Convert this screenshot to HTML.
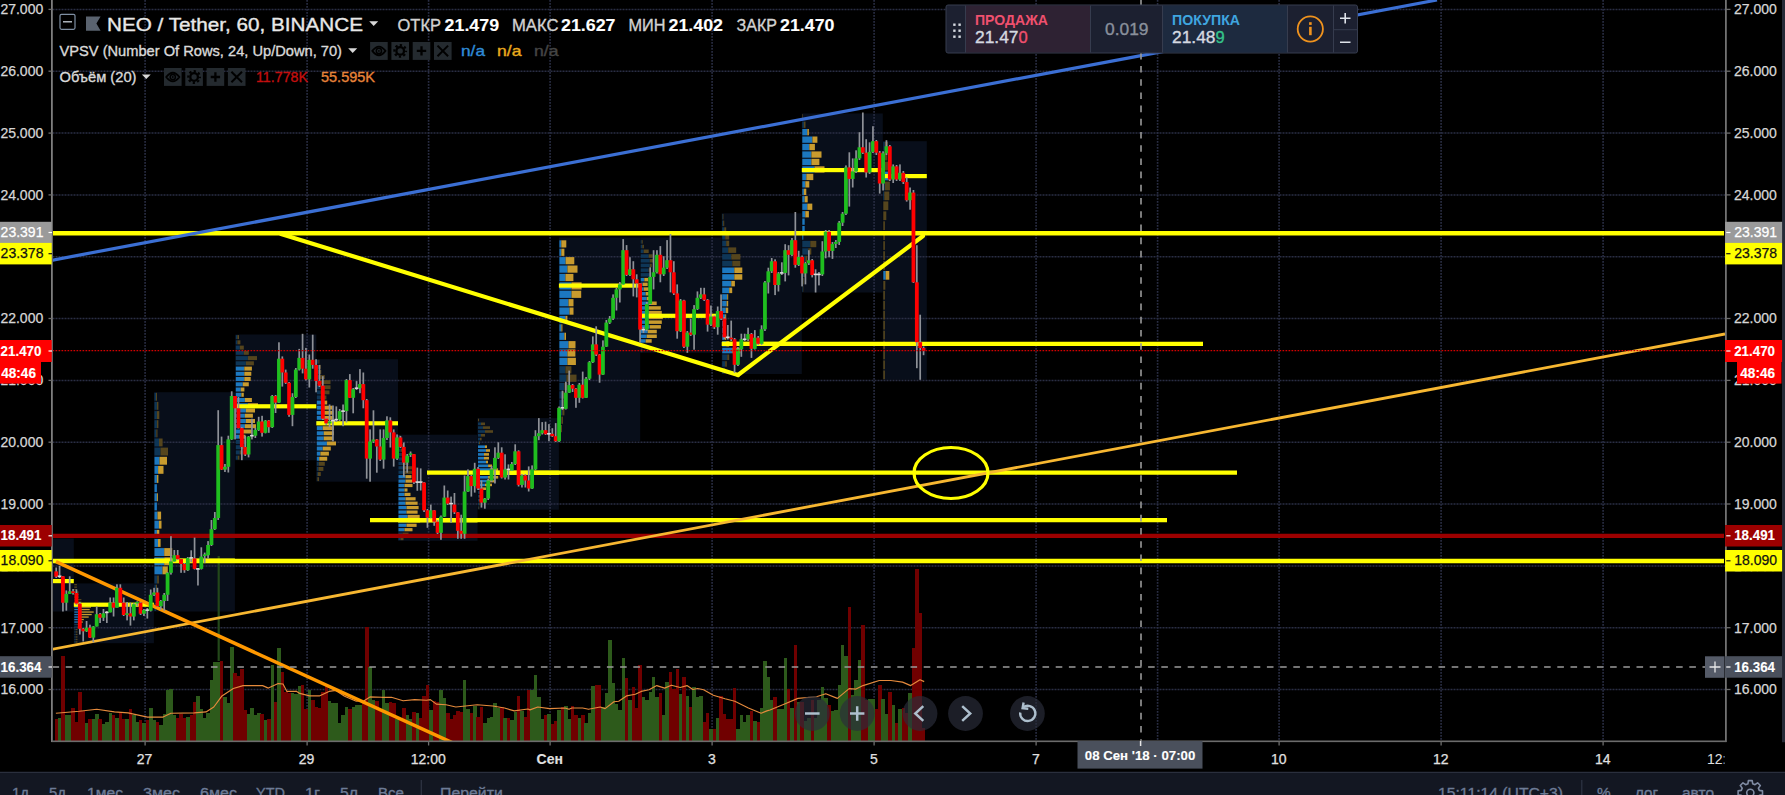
<!DOCTYPE html>
<html lang="ru"><head><meta charset="utf-8"><title>NEO / Tether, 60, BINANCE</title>
<style>html,body{margin:0;padding:0;background:#000;width:1785px;height:795px;overflow:hidden}svg{display:block}text{opacity:0.999}text{white-space:pre}</style>
</head><body>
<svg width="1785" height="795" viewBox="0 0 1785 795" font-family="'Liberation Sans', sans-serif">
<rect width="1785" height="795" fill="#000"/>
<defs><clipPath id="pane"><rect x="53.0" y="0" width="1672.0" height="741.0"/></clipPath></defs>
<g clip-path="url(#pane)">
<rect x="52.6" y="538.5" width="21.2" height="73.0" fill="#080e1a"/>
<rect x="73.8" y="583.4" width="80.1" height="59.8" fill="#080e1a"/>
<rect x="154.0" y="392.2" width="80.9" height="219.3" fill="#080e1a"/>
<rect x="235.3" y="334.5" width="81.0" height="125.8" fill="#080e1a"/>
<rect x="316.3" y="359.2" width="81.7" height="122.5" fill="#080e1a"/>
<rect x="398.0" y="434.7" width="79.5" height="106.1" fill="#080e1a"/>
<rect x="477.5" y="418.1" width="81.4" height="91.6" fill="#080e1a"/>
<rect x="558.9" y="237.5" width="81.3" height="203.7" fill="#080e1a"/>
<rect x="640.2" y="237.5" width="81.5" height="115.3" fill="#080e1a"/>
<rect x="721.7" y="213.3" width="80.1" height="160.7" fill="#080e1a"/>
<rect x="801.8" y="113.5" width="81.0" height="179.0" fill="#080e1a"/>
<rect x="882.8" y="141.2" width="44.0" height="238.6" fill="#080e1a"/>
<line x1="52.5" x2="1725.5" y1="689.5" y2="689.5" stroke="#2a2e44" stroke-width="1.5" stroke-dasharray="2 1"/>
<line x1="52.5" x2="1725.5" y1="627.7" y2="627.7" stroke="#2a2e44" stroke-width="1.5" stroke-dasharray="2 1"/>
<line x1="52.5" x2="1725.5" y1="565.9" y2="565.9" stroke="#2a2e44" stroke-width="1.5" stroke-dasharray="2 1"/>
<line x1="52.5" x2="1725.5" y1="504.0" y2="504.0" stroke="#2a2e44" stroke-width="1.5" stroke-dasharray="2 1"/>
<line x1="52.5" x2="1725.5" y1="442.2" y2="442.2" stroke="#2a2e44" stroke-width="1.5" stroke-dasharray="2 1"/>
<line x1="52.5" x2="1725.5" y1="380.4" y2="380.4" stroke="#2a2e44" stroke-width="1.5" stroke-dasharray="2 1"/>
<line x1="52.5" x2="1725.5" y1="318.5" y2="318.5" stroke="#2a2e44" stroke-width="1.5" stroke-dasharray="2 1"/>
<line x1="52.5" x2="1725.5" y1="256.7" y2="256.7" stroke="#2a2e44" stroke-width="1.5" stroke-dasharray="2 1"/>
<line x1="52.5" x2="1725.5" y1="194.9" y2="194.9" stroke="#2a2e44" stroke-width="1.5" stroke-dasharray="2 1"/>
<line x1="52.5" x2="1725.5" y1="133.1" y2="133.1" stroke="#2a2e44" stroke-width="1.5" stroke-dasharray="2 1"/>
<line x1="52.5" x2="1725.5" y1="71.2" y2="71.2" stroke="#2a2e44" stroke-width="1.5" stroke-dasharray="2 1"/>
<line x1="52.5" x2="1725.5" y1="9.4" y2="9.4" stroke="#2a2e44" stroke-width="1.5" stroke-dasharray="2 1"/>
<line x1="145.1" x2="145.1" y1="0" y2="741.5" stroke="#2a2e44" stroke-width="1.6" stroke-dasharray="1.8 1.2"/>
<line x1="307.1" x2="307.1" y1="0" y2="741.5" stroke="#2a2e44" stroke-width="1.6" stroke-dasharray="1.8 1.2"/>
<line x1="428.6" x2="428.6" y1="0" y2="741.5" stroke="#2a2e44" stroke-width="1.6" stroke-dasharray="1.8 1.2"/>
<line x1="550.1" x2="550.1" y1="0" y2="741.5" stroke="#2a2e44" stroke-width="1.6" stroke-dasharray="1.8 1.2"/>
<line x1="712.1" x2="712.1" y1="0" y2="741.5" stroke="#2a2e44" stroke-width="1.6" stroke-dasharray="1.8 1.2"/>
<line x1="874.1" x2="874.1" y1="0" y2="741.5" stroke="#2a2e44" stroke-width="1.6" stroke-dasharray="1.8 1.2"/>
<line x1="1036.1" x2="1036.1" y1="0" y2="741.5" stroke="#2a2e44" stroke-width="1.6" stroke-dasharray="1.8 1.2"/>
<line x1="1157.6" x2="1157.6" y1="0" y2="741.5" stroke="#2a2e44" stroke-width="1.6" stroke-dasharray="1.8 1.2"/>
<line x1="1279.1" x2="1279.1" y1="0" y2="741.5" stroke="#2a2e44" stroke-width="1.6" stroke-dasharray="1.8 1.2"/>
<line x1="1441.1" x2="1441.1" y1="0" y2="741.5" stroke="#2a2e44" stroke-width="1.6" stroke-dasharray="1.8 1.2"/>
<line x1="1603.1" x2="1603.1" y1="0" y2="741.5" stroke="#2a2e44" stroke-width="1.6" stroke-dasharray="1.8 1.2"/>
<rect x="74.3" y="584.0" width="2.6" height="1.3" fill="#55451d"/>
<rect x="74.3" y="586.5" width="2.6" height="1.3" fill="#55451d"/>
<rect x="74.3" y="589.0" width="2.6" height="1.3" fill="#55451d"/>
<rect x="74.3" y="591.5" width="4.4" height="1.3" fill="#55451d"/>
<rect x="74.3" y="594.0" width="4.4" height="1.3" fill="#55451d"/>
<rect x="74.3" y="596.5" width="4.4" height="1.3" fill="#55451d"/>
<rect x="74.3" y="599.0" width="1.8" height="1.3" fill="#0e3657"/>
<rect x="76.1" y="599.0" width="5.3" height="1.3" fill="#55451d"/>
<rect x="74.3" y="601.4" width="1.8" height="1.3" fill="#0e3657"/>
<rect x="76.1" y="601.4" width="5.3" height="1.3" fill="#55451d"/>
<rect x="74.3" y="603.9" width="4.4" height="1.3" fill="#1c78c0"/>
<rect x="78.7" y="603.9" width="12.3" height="1.3" fill="#c89b2e"/>
<rect x="74.3" y="606.4" width="4.4" height="1.3" fill="#1c78c0"/>
<rect x="78.7" y="606.4" width="12.3" height="1.3" fill="#c89b2e"/>
<rect x="74.3" y="608.9" width="4.4" height="1.3" fill="#1c78c0"/>
<rect x="78.7" y="608.9" width="11.0" height="1.3" fill="#c89b2e"/>
<rect x="74.3" y="611.4" width="4.4" height="1.3" fill="#1c78c0"/>
<rect x="78.7" y="611.4" width="15.0" height="1.3" fill="#c89b2e"/>
<rect x="74.3" y="613.9" width="4.4" height="1.3" fill="#1c78c0"/>
<rect x="78.7" y="613.9" width="13.0" height="1.3" fill="#c89b2e"/>
<rect x="74.3" y="616.4" width="4.4" height="1.3" fill="#1c78c0"/>
<rect x="78.7" y="616.4" width="10.0" height="1.3" fill="#c89b2e"/>
<rect x="74.3" y="618.9" width="3.5" height="1.3" fill="#1c78c0"/>
<rect x="77.8" y="618.9" width="6.0" height="1.3" fill="#c89b2e"/>
<rect x="74.3" y="621.4" width="3.5" height="1.3" fill="#1c78c0"/>
<rect x="77.8" y="621.4" width="5.0" height="1.3" fill="#c89b2e"/>
<rect x="74.3" y="623.9" width="3.0" height="1.3" fill="#0e3657"/>
<rect x="77.3" y="623.9" width="4.0" height="1.3" fill="#55451d"/>
<rect x="74.3" y="626.4" width="3.0" height="1.3" fill="#0e3657"/>
<rect x="77.3" y="626.4" width="3.0" height="1.3" fill="#55451d"/>
<rect x="74.3" y="628.9" width="1.4" height="1.3" fill="#0e3657"/>
<rect x="75.7" y="628.9" width="1.8" height="1.3" fill="#55451d"/>
<rect x="74.3" y="631.3" width="1.4" height="1.3" fill="#0e3657"/>
<rect x="75.7" y="631.3" width="1.8" height="1.3" fill="#55451d"/>
<rect x="74.3" y="633.8" width="1.4" height="1.3" fill="#0e3657"/>
<rect x="75.7" y="633.8" width="1.8" height="1.3" fill="#55451d"/>
<rect x="74.3" y="636.3" width="1.4" height="1.3" fill="#0e3657"/>
<rect x="75.7" y="636.3" width="1.8" height="1.3" fill="#55451d"/>
<rect x="74.3" y="638.8" width="1.4" height="1.3" fill="#0e3657"/>
<rect x="75.7" y="638.8" width="1.8" height="1.3" fill="#55451d"/>
<rect x="74.3" y="641.3" width="1.4" height="1.3" fill="#0e3657"/>
<rect x="75.7" y="641.3" width="1.8" height="1.3" fill="#55451d"/>
<rect x="154.5" y="392.8" width="1.5" height="7.9" fill="#0e3657"/>
<rect x="156.0" y="392.8" width="1.0" height="7.9" fill="#55451d"/>
<rect x="154.5" y="401.9" width="2.4" height="7.9" fill="#0e3657"/>
<rect x="156.9" y="401.9" width="1.5" height="7.9" fill="#55451d"/>
<rect x="154.5" y="411.1" width="2.4" height="7.9" fill="#0e3657"/>
<rect x="156.9" y="411.1" width="2.4" height="7.9" fill="#55451d"/>
<rect x="154.5" y="420.2" width="2.4" height="7.9" fill="#0e3657"/>
<rect x="156.9" y="420.2" width="1.5" height="7.9" fill="#55451d"/>
<rect x="154.5" y="429.4" width="1.8" height="7.9" fill="#0e3657"/>
<rect x="156.3" y="429.4" width="1.2" height="7.9" fill="#55451d"/>
<rect x="154.5" y="438.5" width="4.5" height="7.9" fill="#0e3657"/>
<rect x="159.0" y="438.5" width="3.6" height="7.9" fill="#55451d"/>
<rect x="154.5" y="447.6" width="6.0" height="7.9" fill="#0e3657"/>
<rect x="160.5" y="447.6" width="7.5" height="7.9" fill="#55451d"/>
<rect x="154.5" y="456.8" width="5.0" height="7.9" fill="#1c78c0"/>
<rect x="159.5" y="456.8" width="7.5" height="7.9" fill="#c89b2e"/>
<rect x="154.5" y="465.9" width="3.6" height="7.9" fill="#1c78c0"/>
<rect x="158.1" y="465.9" width="5.4" height="7.9" fill="#c89b2e"/>
<rect x="154.5" y="475.0" width="2.4" height="7.9" fill="#1c78c0"/>
<rect x="156.9" y="475.0" width="1.5" height="7.9" fill="#c89b2e"/>
<rect x="154.5" y="484.2" width="2.4" height="7.9" fill="#1c78c0"/>
<rect x="154.5" y="493.3" width="2.4" height="7.9" fill="#1c78c0"/>
<rect x="156.9" y="493.3" width="1.0" height="7.9" fill="#c89b2e"/>
<rect x="154.5" y="502.5" width="2.4" height="7.9" fill="#1c78c0"/>
<rect x="154.5" y="511.6" width="3.0" height="7.9" fill="#1c78c0"/>
<rect x="157.5" y="511.6" width="3.6" height="7.9" fill="#c89b2e"/>
<rect x="154.5" y="520.7" width="4.4" height="7.9" fill="#1c78c0"/>
<rect x="158.9" y="520.7" width="2.6" height="7.9" fill="#c89b2e"/>
<rect x="154.5" y="529.9" width="2.4" height="7.9" fill="#1c78c0"/>
<rect x="156.9" y="529.9" width="2.4" height="7.9" fill="#c89b2e"/>
<rect x="154.5" y="539.0" width="3.5" height="7.9" fill="#1c78c0"/>
<rect x="158.0" y="539.0" width="2.6" height="7.9" fill="#c89b2e"/>
<rect x="154.5" y="548.1" width="9.7" height="7.9" fill="#1c78c0"/>
<rect x="164.2" y="548.1" width="8.0" height="7.9" fill="#c89b2e"/>
<rect x="154.5" y="557.3" width="9.7" height="7.9" fill="#1c78c0"/>
<rect x="164.2" y="557.3" width="8.0" height="7.9" fill="#c89b2e"/>
<rect x="154.5" y="566.4" width="8.0" height="7.9" fill="#1c78c0"/>
<rect x="162.5" y="566.4" width="5.3" height="7.9" fill="#c89b2e"/>
<rect x="154.5" y="575.6" width="2.6" height="7.9" fill="#0e3657"/>
<rect x="157.1" y="575.6" width="1.8" height="7.9" fill="#55451d"/>
<rect x="154.5" y="584.7" width="1.5" height="7.9" fill="#0e3657"/>
<rect x="156.0" y="584.7" width="1.0" height="7.9" fill="#55451d"/>
<rect x="154.5" y="593.8" width="1.5" height="7.9" fill="#0e3657"/>
<rect x="154.5" y="603.0" width="1.5" height="7.9" fill="#0e3657"/>
<rect x="235.8" y="335.1" width="1.6" height="4.0" fill="#0e3657"/>
<rect x="237.4" y="335.1" width="1.6" height="4.0" fill="#55451d"/>
<rect x="235.8" y="340.3" width="1.6" height="4.0" fill="#0e3657"/>
<rect x="237.4" y="340.3" width="3.0" height="4.0" fill="#55451d"/>
<rect x="235.8" y="345.6" width="4.0" height="4.0" fill="#0e3657"/>
<rect x="239.8" y="345.6" width="4.0" height="4.0" fill="#55451d"/>
<rect x="235.8" y="350.8" width="8.0" height="4.0" fill="#0e3657"/>
<rect x="243.8" y="350.8" width="5.0" height="4.0" fill="#55451d"/>
<rect x="235.8" y="356.1" width="12.1" height="4.0" fill="#0e3657"/>
<rect x="247.9" y="356.1" width="9.1" height="4.0" fill="#55451d"/>
<rect x="235.8" y="361.3" width="10.1" height="4.0" fill="#0e3657"/>
<rect x="245.9" y="361.3" width="8.0" height="4.0" fill="#55451d"/>
<rect x="235.8" y="366.6" width="8.5" height="4.0" fill="#1c78c0"/>
<rect x="244.3" y="366.6" width="7.6" height="4.0" fill="#c89b2e"/>
<rect x="235.8" y="371.8" width="8.5" height="4.0" fill="#1c78c0"/>
<rect x="244.3" y="371.8" width="7.0" height="4.0" fill="#c89b2e"/>
<rect x="235.8" y="377.0" width="8.5" height="4.0" fill="#1c78c0"/>
<rect x="244.3" y="377.0" width="6.4" height="4.0" fill="#c89b2e"/>
<rect x="235.8" y="382.3" width="7.0" height="4.0" fill="#1c78c0"/>
<rect x="242.8" y="382.3" width="6.0" height="4.0" fill="#c89b2e"/>
<rect x="235.8" y="387.5" width="5.0" height="4.0" fill="#1c78c0"/>
<rect x="240.8" y="387.5" width="3.6" height="4.0" fill="#c89b2e"/>
<rect x="235.8" y="392.8" width="5.6" height="4.0" fill="#1c78c0"/>
<rect x="241.4" y="392.8" width="2.4" height="4.0" fill="#c89b2e"/>
<rect x="235.8" y="398.0" width="9.1" height="4.0" fill="#1c78c0"/>
<rect x="244.9" y="398.0" width="7.0" height="4.0" fill="#c89b2e"/>
<rect x="235.8" y="403.2" width="12.1" height="4.0" fill="#1c78c0"/>
<rect x="247.9" y="403.2" width="10.1" height="4.0" fill="#c89b2e"/>
<rect x="235.8" y="408.5" width="10.1" height="4.0" fill="#1c78c0"/>
<rect x="245.9" y="408.5" width="9.1" height="4.0" fill="#c89b2e"/>
<rect x="235.8" y="413.7" width="9.1" height="4.0" fill="#1c78c0"/>
<rect x="244.9" y="413.7" width="8.0" height="4.0" fill="#c89b2e"/>
<rect x="235.8" y="419.0" width="10.1" height="4.0" fill="#1c78c0"/>
<rect x="245.9" y="419.0" width="9.1" height="4.0" fill="#c89b2e"/>
<rect x="235.8" y="424.2" width="9.1" height="4.0" fill="#1c78c0"/>
<rect x="244.9" y="424.2" width="11.1" height="4.0" fill="#c89b2e"/>
<rect x="235.8" y="429.5" width="4.4" height="4.0" fill="#1c78c0"/>
<rect x="240.2" y="429.5" width="11.7" height="4.0" fill="#c89b2e"/>
<rect x="235.8" y="434.7" width="3.6" height="4.0" fill="#1c78c0"/>
<rect x="239.4" y="434.7" width="6.0" height="4.0" fill="#c89b2e"/>
<rect x="235.8" y="439.9" width="5.0" height="4.0" fill="#0e3657"/>
<rect x="240.8" y="439.9" width="4.0" height="4.0" fill="#55451d"/>
<rect x="235.8" y="445.2" width="5.0" height="4.0" fill="#0e3657"/>
<rect x="240.8" y="445.2" width="3.0" height="4.0" fill="#55451d"/>
<rect x="235.8" y="450.4" width="4.0" height="4.0" fill="#0e3657"/>
<rect x="239.8" y="450.4" width="2.4" height="4.0" fill="#55451d"/>
<rect x="235.8" y="455.7" width="2.0" height="4.0" fill="#0e3657"/>
<rect x="237.8" y="455.7" width="1.6" height="4.0" fill="#55451d"/>
<rect x="316.8" y="359.8" width="1.6" height="3.9" fill="#0e3657"/>
<rect x="318.4" y="359.8" width="1.0" height="3.9" fill="#55451d"/>
<rect x="316.8" y="364.9" width="2.0" height="3.9" fill="#0e3657"/>
<rect x="318.8" y="364.9" width="2.0" height="3.9" fill="#55451d"/>
<rect x="316.8" y="370.0" width="2.4" height="3.9" fill="#0e3657"/>
<rect x="319.2" y="370.0" width="2.0" height="3.9" fill="#55451d"/>
<rect x="316.8" y="375.1" width="3.0" height="3.9" fill="#0e3657"/>
<rect x="319.8" y="375.1" width="5.0" height="3.9" fill="#55451d"/>
<rect x="316.8" y="380.2" width="3.6" height="3.9" fill="#0e3657"/>
<rect x="320.4" y="380.2" width="10.1" height="3.9" fill="#55451d"/>
<rect x="316.8" y="385.3" width="3.6" height="3.9" fill="#0e3657"/>
<rect x="320.4" y="385.3" width="10.1" height="3.9" fill="#55451d"/>
<rect x="316.8" y="390.4" width="3.6" height="3.9" fill="#0e3657"/>
<rect x="320.4" y="390.4" width="9.1" height="3.9" fill="#55451d"/>
<rect x="316.8" y="395.5" width="3.6" height="3.9" fill="#0e3657"/>
<rect x="320.4" y="395.5" width="6.0" height="3.9" fill="#55451d"/>
<rect x="316.8" y="400.6" width="4.4" height="3.9" fill="#1c78c0"/>
<rect x="321.2" y="400.6" width="6.0" height="3.9" fill="#c89b2e"/>
<rect x="316.8" y="405.7" width="4.4" height="3.9" fill="#1c78c0"/>
<rect x="321.2" y="405.7" width="11.1" height="3.9" fill="#c89b2e"/>
<rect x="316.8" y="410.8" width="4.4" height="3.9" fill="#1c78c0"/>
<rect x="321.2" y="410.8" width="12.1" height="3.9" fill="#c89b2e"/>
<rect x="316.8" y="415.9" width="5.6" height="3.9" fill="#1c78c0"/>
<rect x="322.4" y="415.9" width="11.1" height="3.9" fill="#c89b2e"/>
<rect x="316.8" y="421.1" width="6.0" height="3.9" fill="#1c78c0"/>
<rect x="322.8" y="421.1" width="12.1" height="3.9" fill="#c89b2e"/>
<rect x="316.8" y="426.2" width="6.0" height="3.9" fill="#1c78c0"/>
<rect x="322.8" y="426.2" width="11.1" height="3.9" fill="#c89b2e"/>
<rect x="316.8" y="431.3" width="7.0" height="3.9" fill="#1c78c0"/>
<rect x="323.8" y="431.3" width="10.1" height="3.9" fill="#c89b2e"/>
<rect x="316.8" y="436.4" width="7.0" height="3.9" fill="#1c78c0"/>
<rect x="323.8" y="436.4" width="9.1" height="3.9" fill="#c89b2e"/>
<rect x="316.8" y="441.5" width="10.1" height="3.9" fill="#1c78c0"/>
<rect x="326.9" y="441.5" width="9.1" height="3.9" fill="#c89b2e"/>
<rect x="316.8" y="446.6" width="6.0" height="3.9" fill="#1c78c0"/>
<rect x="322.8" y="446.6" width="8.0" height="3.9" fill="#c89b2e"/>
<rect x="316.8" y="451.7" width="3.6" height="3.9" fill="#1c78c0"/>
<rect x="320.4" y="451.7" width="8.5" height="3.9" fill="#c89b2e"/>
<rect x="316.8" y="456.8" width="2.4" height="3.9" fill="#1c78c0"/>
<rect x="319.2" y="456.8" width="8.0" height="3.9" fill="#c89b2e"/>
<rect x="316.8" y="461.9" width="2.0" height="3.9" fill="#0e3657"/>
<rect x="318.8" y="461.9" width="6.0" height="3.9" fill="#55451d"/>
<rect x="316.8" y="467.0" width="1.6" height="3.9" fill="#0e3657"/>
<rect x="318.4" y="467.0" width="5.0" height="3.9" fill="#55451d"/>
<rect x="316.8" y="472.1" width="1.0" height="3.9" fill="#0e3657"/>
<rect x="317.8" y="472.1" width="3.0" height="3.9" fill="#55451d"/>
<rect x="316.8" y="477.2" width="0.6" height="3.9" fill="#0e3657"/>
<rect x="317.4" y="477.2" width="1.6" height="3.9" fill="#55451d"/>
<rect x="398.5" y="435.3" width="1.0" height="3.2" fill="#0e3657"/>
<rect x="399.5" y="435.3" width="1.0" height="3.2" fill="#55451d"/>
<rect x="398.5" y="439.7" width="1.6" height="3.2" fill="#0e3657"/>
<rect x="400.1" y="439.7" width="1.6" height="3.2" fill="#55451d"/>
<rect x="398.5" y="444.1" width="2.0" height="3.2" fill="#0e3657"/>
<rect x="400.5" y="444.1" width="2.4" height="3.2" fill="#55451d"/>
<rect x="398.5" y="448.6" width="2.4" height="3.2" fill="#0e3657"/>
<rect x="400.9" y="448.6" width="3.0" height="3.2" fill="#55451d"/>
<rect x="398.5" y="453.0" width="3.0" height="3.2" fill="#0e3657"/>
<rect x="401.5" y="453.0" width="4.0" height="3.2" fill="#55451d"/>
<rect x="398.5" y="457.4" width="3.6" height="3.2" fill="#0e3657"/>
<rect x="402.1" y="457.4" width="5.0" height="3.2" fill="#55451d"/>
<rect x="398.5" y="461.8" width="4.0" height="3.2" fill="#0e3657"/>
<rect x="402.5" y="461.8" width="6.0" height="3.2" fill="#55451d"/>
<rect x="398.5" y="466.2" width="6.0" height="3.2" fill="#0e3657"/>
<rect x="404.5" y="466.2" width="8.0" height="3.2" fill="#55451d"/>
<rect x="398.5" y="470.7" width="6.0" height="3.2" fill="#0e3657"/>
<rect x="404.5" y="470.7" width="8.0" height="3.2" fill="#55451d"/>
<rect x="398.5" y="475.1" width="7.0" height="3.2" fill="#1c78c0"/>
<rect x="405.5" y="475.1" width="6.0" height="3.2" fill="#c89b2e"/>
<rect x="398.5" y="479.5" width="7.0" height="3.2" fill="#1c78c0"/>
<rect x="405.5" y="479.5" width="7.0" height="3.2" fill="#c89b2e"/>
<rect x="398.5" y="483.9" width="6.0" height="3.2" fill="#1c78c0"/>
<rect x="404.5" y="483.9" width="8.0" height="3.2" fill="#c89b2e"/>
<rect x="398.5" y="488.4" width="6.0" height="3.2" fill="#1c78c0"/>
<rect x="404.5" y="488.4" width="3.0" height="3.2" fill="#c89b2e"/>
<rect x="398.5" y="492.8" width="6.0" height="3.2" fill="#1c78c0"/>
<rect x="404.5" y="492.8" width="6.0" height="3.2" fill="#c89b2e"/>
<rect x="398.5" y="497.2" width="7.0" height="3.2" fill="#1c78c0"/>
<rect x="405.5" y="497.2" width="10.1" height="3.2" fill="#c89b2e"/>
<rect x="398.5" y="501.6" width="7.0" height="3.2" fill="#1c78c0"/>
<rect x="405.5" y="501.6" width="12.1" height="3.2" fill="#c89b2e"/>
<rect x="398.5" y="506.0" width="8.0" height="3.2" fill="#1c78c0"/>
<rect x="406.5" y="506.0" width="12.1" height="3.2" fill="#c89b2e"/>
<rect x="398.5" y="510.5" width="8.0" height="3.2" fill="#1c78c0"/>
<rect x="406.5" y="510.5" width="11.1" height="3.2" fill="#c89b2e"/>
<rect x="398.5" y="514.9" width="9.1" height="3.2" fill="#1c78c0"/>
<rect x="407.6" y="514.9" width="12.1" height="3.2" fill="#c89b2e"/>
<rect x="398.5" y="519.3" width="9.1" height="3.2" fill="#1c78c0"/>
<rect x="407.6" y="519.3" width="12.5" height="3.2" fill="#c89b2e"/>
<rect x="398.5" y="523.7" width="8.0" height="3.2" fill="#1c78c0"/>
<rect x="406.5" y="523.7" width="10.1" height="3.2" fill="#c89b2e"/>
<rect x="398.5" y="528.1" width="6.0" height="3.2" fill="#1c78c0"/>
<rect x="404.5" y="528.1" width="8.0" height="3.2" fill="#c89b2e"/>
<rect x="398.5" y="532.6" width="4.0" height="3.2" fill="#0e3657"/>
<rect x="402.5" y="532.6" width="6.0" height="3.2" fill="#55451d"/>
<rect x="398.5" y="537.0" width="2.0" height="3.2" fill="#0e3657"/>
<rect x="400.5" y="537.0" width="3.0" height="3.2" fill="#55451d"/>
<rect x="478.0" y="418.7" width="1.0" height="2.6" fill="#55451d"/>
<rect x="478.0" y="422.5" width="3.0" height="2.6" fill="#0e3657"/>
<rect x="481.0" y="422.5" width="4.0" height="2.6" fill="#55451d"/>
<rect x="478.0" y="426.3" width="5.0" height="2.6" fill="#0e3657"/>
<rect x="483.0" y="426.3" width="7.0" height="2.6" fill="#55451d"/>
<rect x="478.0" y="430.2" width="7.0" height="2.6" fill="#0e3657"/>
<rect x="485.0" y="430.2" width="8.0" height="2.6" fill="#55451d"/>
<rect x="478.0" y="434.0" width="3.0" height="2.6" fill="#0e3657"/>
<rect x="481.0" y="434.0" width="4.0" height="2.6" fill="#55451d"/>
<rect x="478.0" y="437.8" width="2.0" height="2.6" fill="#0e3657"/>
<rect x="480.0" y="437.8" width="1.6" height="2.6" fill="#55451d"/>
<rect x="478.0" y="441.6" width="1.0" height="2.6" fill="#0e3657"/>
<rect x="479.0" y="441.6" width="1.0" height="2.6" fill="#55451d"/>
<rect x="478.0" y="445.4" width="7.0" height="2.6" fill="#1c78c0"/>
<rect x="485.0" y="445.4" width="2.0" height="2.6" fill="#c89b2e"/>
<rect x="478.0" y="449.2" width="8.0" height="2.6" fill="#1c78c0"/>
<rect x="486.0" y="449.2" width="4.0" height="2.6" fill="#c89b2e"/>
<rect x="478.0" y="453.1" width="6.0" height="2.6" fill="#1c78c0"/>
<rect x="484.0" y="453.1" width="5.0" height="2.6" fill="#c89b2e"/>
<rect x="478.0" y="456.9" width="6.0" height="2.6" fill="#1c78c0"/>
<rect x="484.0" y="456.9" width="5.0" height="2.6" fill="#c89b2e"/>
<rect x="478.0" y="460.7" width="8.0" height="2.6" fill="#1c78c0"/>
<rect x="486.0" y="460.7" width="2.0" height="2.6" fill="#c89b2e"/>
<rect x="478.0" y="464.5" width="10.1" height="2.6" fill="#1c78c0"/>
<rect x="488.1" y="464.5" width="4.0" height="2.6" fill="#c89b2e"/>
<rect x="478.0" y="468.3" width="12.1" height="2.6" fill="#1c78c0"/>
<rect x="490.1" y="468.3" width="8.0" height="2.6" fill="#c89b2e"/>
<rect x="478.0" y="472.1" width="11.1" height="2.6" fill="#1c78c0"/>
<rect x="489.1" y="472.1" width="9.1" height="2.6" fill="#c89b2e"/>
<rect x="478.0" y="476.0" width="10.1" height="2.6" fill="#1c78c0"/>
<rect x="488.1" y="476.0" width="10.1" height="2.6" fill="#c89b2e"/>
<rect x="478.0" y="479.8" width="9.1" height="2.6" fill="#1c78c0"/>
<rect x="487.1" y="479.8" width="8.0" height="2.6" fill="#c89b2e"/>
<rect x="478.0" y="483.6" width="7.0" height="2.6" fill="#1c78c0"/>
<rect x="485.0" y="483.6" width="7.0" height="2.6" fill="#c89b2e"/>
<rect x="478.0" y="487.4" width="4.0" height="2.6" fill="#1c78c0"/>
<rect x="482.0" y="487.4" width="4.0" height="2.6" fill="#c89b2e"/>
<rect x="478.0" y="491.2" width="2.0" height="2.6" fill="#0e3657"/>
<rect x="480.0" y="491.2" width="2.0" height="2.6" fill="#55451d"/>
<rect x="478.0" y="495.0" width="1.0" height="2.6" fill="#0e3657"/>
<rect x="479.0" y="495.0" width="1.0" height="2.6" fill="#55451d"/>
<rect x="478.0" y="498.9" width="1.0" height="2.6" fill="#0e3657"/>
<rect x="479.0" y="498.9" width="1.0" height="2.6" fill="#55451d"/>
<rect x="478.0" y="502.7" width="1.0" height="2.6" fill="#0e3657"/>
<rect x="479.0" y="502.7" width="0.6" height="2.6" fill="#55451d"/>
<rect x="478.0" y="506.5" width="0.6" height="2.6" fill="#0e3657"/>
<rect x="478.6" y="506.5" width="0.6" height="2.6" fill="#55451d"/>
<rect x="559.4" y="240.3" width="1.9" height="7.2" fill="#1c78c0"/>
<rect x="561.3" y="240.3" width="5.0" height="7.2" fill="#c89b2e"/>
<rect x="559.4" y="248.7" width="1.9" height="7.2" fill="#1c78c0"/>
<rect x="561.3" y="248.7" width="3.1" height="7.2" fill="#c89b2e"/>
<rect x="559.4" y="257.1" width="6.2" height="7.2" fill="#1c78c0"/>
<rect x="565.6" y="257.1" width="8.7" height="7.2" fill="#c89b2e"/>
<rect x="559.4" y="265.5" width="8.0" height="7.2" fill="#1c78c0"/>
<rect x="567.4" y="265.5" width="10.1" height="7.2" fill="#c89b2e"/>
<rect x="559.4" y="273.9" width="6.0" height="7.2" fill="#1c78c0"/>
<rect x="565.4" y="273.9" width="8.0" height="7.2" fill="#c89b2e"/>
<rect x="559.4" y="282.3" width="12.1" height="7.2" fill="#1c78c0"/>
<rect x="571.5" y="282.3" width="10.1" height="7.2" fill="#c89b2e"/>
<rect x="559.4" y="290.7" width="12.1" height="7.2" fill="#1c78c0"/>
<rect x="571.5" y="290.7" width="9.7" height="7.2" fill="#c89b2e"/>
<rect x="559.4" y="299.1" width="9.1" height="7.2" fill="#1c78c0"/>
<rect x="568.5" y="299.1" width="5.0" height="7.2" fill="#c89b2e"/>
<rect x="559.4" y="307.5" width="10.1" height="7.2" fill="#1c78c0"/>
<rect x="569.5" y="307.5" width="4.0" height="7.2" fill="#c89b2e"/>
<rect x="559.4" y="315.9" width="6.0" height="7.2" fill="#1c78c0"/>
<rect x="565.4" y="315.9" width="2.0" height="7.2" fill="#c89b2e"/>
<rect x="559.4" y="324.3" width="2.0" height="7.2" fill="#1c78c0"/>
<rect x="561.4" y="324.3" width="1.0" height="7.2" fill="#c89b2e"/>
<rect x="559.4" y="332.7" width="5.0" height="7.2" fill="#1c78c0"/>
<rect x="564.4" y="332.7" width="1.6" height="7.2" fill="#c89b2e"/>
<rect x="559.4" y="341.1" width="9.1" height="7.2" fill="#1c78c0"/>
<rect x="568.5" y="341.1" width="7.0" height="7.2" fill="#c89b2e"/>
<rect x="559.4" y="349.4" width="8.0" height="7.2" fill="#1c78c0"/>
<rect x="567.4" y="349.4" width="8.0" height="7.2" fill="#c89b2e"/>
<rect x="559.4" y="357.8" width="8.0" height="7.2" fill="#1c78c0"/>
<rect x="567.4" y="357.8" width="8.5" height="7.2" fill="#c89b2e"/>
<rect x="559.4" y="366.2" width="6.0" height="7.2" fill="#0e3657"/>
<rect x="565.4" y="366.2" width="6.0" height="7.2" fill="#55451d"/>
<rect x="559.4" y="374.6" width="7.0" height="7.2" fill="#0e3657"/>
<rect x="566.4" y="374.6" width="10.1" height="7.2" fill="#55451d"/>
<rect x="559.4" y="383.0" width="5.0" height="7.2" fill="#0e3657"/>
<rect x="564.4" y="383.0" width="3.0" height="7.2" fill="#55451d"/>
<rect x="559.4" y="391.4" width="3.0" height="7.2" fill="#0e3657"/>
<rect x="562.4" y="391.4" width="2.0" height="7.2" fill="#55451d"/>
<rect x="559.4" y="399.8" width="4.0" height="7.2" fill="#0e3657"/>
<rect x="563.4" y="399.8" width="3.0" height="7.2" fill="#55451d"/>
<rect x="559.4" y="408.2" width="3.0" height="7.2" fill="#0e3657"/>
<rect x="562.4" y="408.2" width="2.0" height="7.2" fill="#55451d"/>
<rect x="559.4" y="416.6" width="2.0" height="7.2" fill="#0e3657"/>
<rect x="561.4" y="416.6" width="1.6" height="7.2" fill="#55451d"/>
<rect x="559.4" y="425.0" width="1.6" height="7.2" fill="#0e3657"/>
<rect x="561.0" y="425.0" width="1.0" height="7.2" fill="#55451d"/>
<rect x="559.4" y="433.4" width="1.0" height="7.2" fill="#0e3657"/>
<rect x="560.4" y="433.4" width="0.6" height="7.2" fill="#55451d"/>
<rect x="640.7" y="240.1" width="1.0" height="3.5" fill="#0e3657"/>
<rect x="641.7" y="240.1" width="1.0" height="3.5" fill="#55451d"/>
<rect x="640.7" y="244.8" width="1.6" height="3.5" fill="#0e3657"/>
<rect x="642.3" y="244.8" width="1.6" height="3.5" fill="#55451d"/>
<rect x="640.7" y="249.5" width="3.0" height="3.5" fill="#0e3657"/>
<rect x="643.7" y="249.5" width="5.0" height="3.5" fill="#55451d"/>
<rect x="640.7" y="254.3" width="8.0" height="3.5" fill="#0e3657"/>
<rect x="648.7" y="254.3" width="4.0" height="3.5" fill="#55451d"/>
<rect x="640.7" y="259.0" width="9.1" height="3.5" fill="#0e3657"/>
<rect x="649.8" y="259.0" width="4.0" height="3.5" fill="#55451d"/>
<rect x="640.7" y="263.7" width="9.1" height="3.5" fill="#0e3657"/>
<rect x="649.8" y="263.7" width="2.0" height="3.5" fill="#55451d"/>
<rect x="640.7" y="268.4" width="8.0" height="3.5" fill="#0e3657"/>
<rect x="648.7" y="268.4" width="1.0" height="3.5" fill="#55451d"/>
<rect x="640.7" y="273.1" width="9.1" height="3.5" fill="#0e3657"/>
<rect x="649.8" y="273.1" width="1.0" height="3.5" fill="#55451d"/>
<rect x="640.7" y="277.9" width="3.6" height="3.5" fill="#1c78c0"/>
<rect x="644.3" y="277.9" width="4.0" height="3.5" fill="#c89b2e"/>
<rect x="640.7" y="282.6" width="2.0" height="3.5" fill="#1c78c0"/>
<rect x="642.7" y="282.6" width="5.0" height="3.5" fill="#c89b2e"/>
<rect x="640.7" y="287.3" width="3.0" height="3.5" fill="#1c78c0"/>
<rect x="643.7" y="287.3" width="5.0" height="3.5" fill="#c89b2e"/>
<rect x="640.7" y="292.0" width="5.0" height="3.5" fill="#1c78c0"/>
<rect x="645.7" y="292.0" width="3.0" height="3.5" fill="#c89b2e"/>
<rect x="640.7" y="296.8" width="6.0" height="3.5" fill="#1c78c0"/>
<rect x="646.7" y="296.8" width="4.0" height="3.5" fill="#c89b2e"/>
<rect x="640.7" y="301.5" width="8.0" height="3.5" fill="#1c78c0"/>
<rect x="648.7" y="301.5" width="8.0" height="3.5" fill="#c89b2e"/>
<rect x="640.7" y="306.2" width="8.0" height="3.5" fill="#1c78c0"/>
<rect x="648.7" y="306.2" width="12.1" height="3.5" fill="#c89b2e"/>
<rect x="640.7" y="310.9" width="8.0" height="3.5" fill="#1c78c0"/>
<rect x="648.7" y="310.9" width="13.1" height="3.5" fill="#c89b2e"/>
<rect x="640.7" y="315.6" width="8.0" height="3.5" fill="#1c78c0"/>
<rect x="648.7" y="315.6" width="14.1" height="3.5" fill="#c89b2e"/>
<rect x="640.7" y="320.4" width="8.0" height="3.5" fill="#1c78c0"/>
<rect x="648.7" y="320.4" width="13.1" height="3.5" fill="#c89b2e"/>
<rect x="640.7" y="325.1" width="9.1" height="3.5" fill="#1c78c0"/>
<rect x="649.8" y="325.1" width="11.1" height="3.5" fill="#c89b2e"/>
<rect x="640.7" y="329.8" width="7.0" height="3.5" fill="#1c78c0"/>
<rect x="647.7" y="329.8" width="9.1" height="3.5" fill="#c89b2e"/>
<rect x="640.7" y="334.5" width="6.0" height="3.5" fill="#1c78c0"/>
<rect x="646.7" y="334.5" width="10.1" height="3.5" fill="#c89b2e"/>
<rect x="640.7" y="339.2" width="5.0" height="3.5" fill="#1c78c0"/>
<rect x="645.7" y="339.2" width="6.0" height="3.5" fill="#c89b2e"/>
<rect x="640.7" y="344.0" width="1.6" height="3.5" fill="#0e3657"/>
<rect x="642.3" y="344.0" width="1.0" height="3.5" fill="#55451d"/>
<rect x="640.7" y="348.7" width="1.0" height="3.5" fill="#0e3657"/>
<rect x="641.7" y="348.7" width="0.6" height="3.5" fill="#55451d"/>
<rect x="722.2" y="213.9" width="0.6" height="5.5" fill="#0e3657"/>
<rect x="722.8" y="213.9" width="0.6" height="5.5" fill="#55451d"/>
<rect x="722.2" y="220.6" width="1.0" height="5.5" fill="#0e3657"/>
<rect x="723.2" y="220.6" width="1.0" height="5.5" fill="#55451d"/>
<rect x="722.2" y="227.3" width="2.0" height="5.5" fill="#0e3657"/>
<rect x="724.2" y="227.3" width="2.0" height="5.5" fill="#55451d"/>
<rect x="722.2" y="234.0" width="3.0" height="5.5" fill="#0e3657"/>
<rect x="725.2" y="234.0" width="4.0" height="5.5" fill="#55451d"/>
<rect x="722.2" y="240.7" width="4.0" height="5.5" fill="#0e3657"/>
<rect x="726.2" y="240.7" width="3.0" height="5.5" fill="#55451d"/>
<rect x="722.2" y="247.4" width="6.0" height="5.5" fill="#0e3657"/>
<rect x="728.2" y="247.4" width="8.0" height="5.5" fill="#55451d"/>
<rect x="722.2" y="254.1" width="9.1" height="5.5" fill="#0e3657"/>
<rect x="731.3" y="254.1" width="9.1" height="5.5" fill="#55451d"/>
<rect x="722.2" y="260.8" width="10.1" height="5.5" fill="#0e3657"/>
<rect x="732.3" y="260.8" width="8.0" height="5.5" fill="#55451d"/>
<rect x="722.2" y="267.5" width="12.1" height="5.5" fill="#1c78c0"/>
<rect x="734.3" y="267.5" width="8.0" height="5.5" fill="#c89b2e"/>
<rect x="722.2" y="274.2" width="12.1" height="5.5" fill="#1c78c0"/>
<rect x="734.3" y="274.2" width="8.0" height="5.5" fill="#c89b2e"/>
<rect x="722.2" y="280.9" width="9.1" height="5.5" fill="#1c78c0"/>
<rect x="731.3" y="280.9" width="3.6" height="5.5" fill="#c89b2e"/>
<rect x="722.2" y="287.6" width="7.0" height="5.5" fill="#1c78c0"/>
<rect x="729.2" y="287.6" width="3.0" height="5.5" fill="#c89b2e"/>
<rect x="722.2" y="294.2" width="5.0" height="5.5" fill="#1c78c0"/>
<rect x="727.2" y="294.2" width="1.0" height="5.5" fill="#c89b2e"/>
<rect x="722.2" y="300.9" width="4.4" height="5.5" fill="#1c78c0"/>
<rect x="726.6" y="300.9" width="1.6" height="5.5" fill="#c89b2e"/>
<rect x="722.2" y="307.6" width="3.6" height="5.5" fill="#1c78c0"/>
<rect x="725.8" y="307.6" width="2.4" height="5.5" fill="#c89b2e"/>
<rect x="722.2" y="314.3" width="3.0" height="5.5" fill="#1c78c0"/>
<rect x="725.2" y="314.3" width="1.0" height="5.5" fill="#c89b2e"/>
<rect x="722.2" y="321.0" width="2.0" height="5.5" fill="#1c78c0"/>
<rect x="724.2" y="321.0" width="1.0" height="5.5" fill="#c89b2e"/>
<rect x="722.2" y="327.7" width="2.0" height="5.5" fill="#1c78c0"/>
<rect x="724.2" y="327.7" width="1.0" height="5.5" fill="#c89b2e"/>
<rect x="722.2" y="334.4" width="2.4" height="5.5" fill="#1c78c0"/>
<rect x="724.6" y="334.4" width="1.6" height="5.5" fill="#c89b2e"/>
<rect x="722.2" y="341.1" width="4.0" height="5.5" fill="#1c78c0"/>
<rect x="726.2" y="341.1" width="3.0" height="5.5" fill="#c89b2e"/>
<rect x="722.2" y="347.8" width="10.1" height="5.5" fill="#1c78c0"/>
<rect x="732.3" y="347.8" width="8.0" height="5.5" fill="#c89b2e"/>
<rect x="722.2" y="354.5" width="5.0" height="5.5" fill="#0e3657"/>
<rect x="727.2" y="354.5" width="2.0" height="5.5" fill="#55451d"/>
<rect x="722.2" y="361.2" width="3.0" height="5.5" fill="#0e3657"/>
<rect x="725.2" y="361.2" width="1.6" height="5.5" fill="#55451d"/>
<rect x="722.2" y="367.9" width="2.0" height="5.5" fill="#0e3657"/>
<rect x="724.2" y="367.9" width="1.0" height="5.5" fill="#55451d"/>
<rect x="802.3" y="114.1" width="0.6" height="6.3" fill="#55451d"/>
<rect x="802.3" y="121.6" width="1.6" height="6.3" fill="#0e3657"/>
<rect x="803.9" y="121.6" width="1.6" height="6.3" fill="#55451d"/>
<rect x="802.3" y="129.0" width="5.0" height="6.3" fill="#1c78c0"/>
<rect x="807.3" y="129.0" width="1.6" height="6.3" fill="#c89b2e"/>
<rect x="802.3" y="136.5" width="10.1" height="6.3" fill="#1c78c0"/>
<rect x="812.4" y="136.5" width="5.0" height="6.3" fill="#c89b2e"/>
<rect x="802.3" y="143.9" width="7.0" height="6.3" fill="#1c78c0"/>
<rect x="809.3" y="143.9" width="5.6" height="6.3" fill="#c89b2e"/>
<rect x="802.3" y="151.4" width="9.1" height="6.3" fill="#1c78c0"/>
<rect x="811.4" y="151.4" width="10.1" height="6.3" fill="#c89b2e"/>
<rect x="802.3" y="158.8" width="9.1" height="6.3" fill="#1c78c0"/>
<rect x="811.4" y="158.8" width="8.0" height="6.3" fill="#c89b2e"/>
<rect x="802.3" y="166.3" width="12.1" height="6.3" fill="#1c78c0"/>
<rect x="814.4" y="166.3" width="10.1" height="6.3" fill="#c89b2e"/>
<rect x="802.3" y="173.8" width="4.0" height="6.3" fill="#1c78c0"/>
<rect x="806.3" y="173.8" width="7.0" height="6.3" fill="#c89b2e"/>
<rect x="802.3" y="181.2" width="3.0" height="6.3" fill="#1c78c0"/>
<rect x="805.3" y="181.2" width="4.0" height="6.3" fill="#c89b2e"/>
<rect x="802.3" y="188.7" width="1.6" height="6.3" fill="#1c78c0"/>
<rect x="803.9" y="188.7" width="2.4" height="6.3" fill="#c89b2e"/>
<rect x="802.3" y="196.1" width="2.4" height="6.3" fill="#1c78c0"/>
<rect x="804.7" y="196.1" width="3.0" height="6.3" fill="#c89b2e"/>
<rect x="802.3" y="203.6" width="5.0" height="6.3" fill="#1c78c0"/>
<rect x="807.3" y="203.6" width="5.0" height="6.3" fill="#c89b2e"/>
<rect x="802.3" y="211.1" width="3.0" height="6.3" fill="#1c78c0"/>
<rect x="805.3" y="211.1" width="3.6" height="6.3" fill="#c89b2e"/>
<rect x="802.3" y="218.5" width="2.4" height="6.3" fill="#1c78c0"/>
<rect x="802.3" y="226.0" width="2.4" height="6.3" fill="#1c78c0"/>
<rect x="802.3" y="233.4" width="1.0" height="6.3" fill="#1c78c0"/>
<rect x="802.3" y="240.9" width="8.0" height="6.3" fill="#0e3657"/>
<rect x="810.3" y="240.9" width="6.0" height="6.3" fill="#55451d"/>
<rect x="802.3" y="248.3" width="6.0" height="6.3" fill="#0e3657"/>
<rect x="808.3" y="248.3" width="3.0" height="6.3" fill="#55451d"/>
<rect x="802.3" y="255.8" width="3.0" height="6.3" fill="#0e3657"/>
<rect x="805.3" y="255.8" width="2.0" height="6.3" fill="#55451d"/>
<rect x="802.3" y="263.3" width="2.0" height="6.3" fill="#0e3657"/>
<rect x="804.3" y="263.3" width="1.6" height="6.3" fill="#55451d"/>
<rect x="802.3" y="270.7" width="1.6" height="6.3" fill="#0e3657"/>
<rect x="803.9" y="270.7" width="1.0" height="6.3" fill="#55451d"/>
<rect x="802.3" y="278.2" width="1.0" height="6.3" fill="#0e3657"/>
<rect x="803.3" y="278.2" width="0.6" height="6.3" fill="#55451d"/>
<rect x="802.3" y="285.6" width="0.6" height="6.3" fill="#0e3657"/>
<rect x="802.9" y="285.6" width="0.4" height="6.3" fill="#55451d"/>
<rect x="883.3" y="141.8" width="1.6" height="8.7" fill="#0e3657"/>
<rect x="884.9" y="141.8" width="3.0" height="8.7" fill="#55451d"/>
<rect x="883.3" y="151.7" width="1.0" height="8.7" fill="#0e3657"/>
<rect x="884.3" y="151.7" width="3.0" height="8.7" fill="#55451d"/>
<rect x="883.3" y="161.7" width="5.0" height="8.7" fill="#55451d"/>
<rect x="883.3" y="171.6" width="5.0" height="8.7" fill="#1c78c0"/>
<rect x="888.3" y="171.6" width="2.0" height="8.7" fill="#c89b2e"/>
<rect x="883.3" y="181.6" width="1.6" height="8.7" fill="#0e3657"/>
<rect x="884.9" y="181.6" width="5.0" height="8.7" fill="#55451d"/>
<rect x="883.3" y="191.5" width="1.0" height="8.7" fill="#0e3657"/>
<rect x="884.3" y="191.5" width="5.0" height="8.7" fill="#55451d"/>
<rect x="883.3" y="201.4" width="5.0" height="8.7" fill="#55451d"/>
<rect x="883.3" y="211.4" width="3.0" height="8.7" fill="#55451d"/>
<rect x="883.3" y="221.3" width="1.6" height="8.7" fill="#55451d"/>
<rect x="883.3" y="231.3" width="1.6" height="8.7" fill="#55451d"/>
<rect x="883.3" y="241.2" width="1.6" height="8.7" fill="#55451d"/>
<rect x="883.3" y="251.2" width="1.6" height="8.7" fill="#55451d"/>
<rect x="883.3" y="261.1" width="1.6" height="8.7" fill="#55451d"/>
<rect x="883.3" y="271.0" width="2.4" height="8.7" fill="#1c78c0"/>
<rect x="885.7" y="271.0" width="3.6" height="8.7" fill="#c89b2e"/>
<rect x="883.3" y="281.0" width="2.0" height="8.7" fill="#55451d"/>
<rect x="883.3" y="290.9" width="1.6" height="8.7" fill="#55451d"/>
<rect x="883.3" y="300.9" width="1.6" height="8.7" fill="#55451d"/>
<rect x="883.3" y="310.8" width="1.6" height="8.7" fill="#55451d"/>
<rect x="883.3" y="320.8" width="1.6" height="8.7" fill="#55451d"/>
<rect x="883.3" y="330.7" width="1.6" height="8.7" fill="#55451d"/>
<rect x="883.3" y="340.6" width="1.6" height="8.7" fill="#55451d"/>
<rect x="883.3" y="350.6" width="1.6" height="8.7" fill="#55451d"/>
<rect x="883.3" y="360.5" width="1.6" height="8.7" fill="#55451d"/>
<rect x="883.3" y="370.5" width="1.6" height="8.7" fill="#55451d"/>
<g shape-rendering="crispEdges">
<rect x="54.51" y="719.0" width="3.6" height="21.5" fill="#700000"/>
<rect x="57.89" y="718.1" width="3.6" height="22.4" fill="#2d5a1b"/>
<rect x="61.26" y="655.7" width="3.6" height="84.8" fill="#700000"/>
<rect x="64.64" y="715.1" width="3.6" height="25.4" fill="#2d5a1b"/>
<rect x="68.01" y="715.1" width="3.6" height="25.4" fill="#2d5a1b"/>
<rect x="71.39" y="708.3" width="3.6" height="32.2" fill="#700000"/>
<rect x="74.76" y="722.0" width="3.6" height="18.5" fill="#700000"/>
<rect x="78.14" y="691.7" width="3.6" height="48.8" fill="#700000"/>
<rect x="81.51" y="711.2" width="3.6" height="29.3" fill="#700000"/>
<rect x="84.89" y="722.9" width="3.6" height="17.6" fill="#2d5a1b"/>
<rect x="88.26" y="719.0" width="3.6" height="21.5" fill="#700000"/>
<rect x="91.64" y="719.0" width="3.6" height="21.5" fill="#2d5a1b"/>
<rect x="95.01" y="714.2" width="3.6" height="26.3" fill="#2d5a1b"/>
<rect x="98.39" y="719.0" width="3.6" height="21.5" fill="#700000"/>
<rect x="101.76" y="723.9" width="3.6" height="16.6" fill="#2d5a1b"/>
<rect x="105.14" y="722.0" width="3.6" height="18.5" fill="#2d5a1b"/>
<rect x="108.51" y="713.2" width="3.6" height="27.3" fill="#2d5a1b"/>
<rect x="111.89" y="715.1" width="3.6" height="25.4" fill="#700000"/>
<rect x="115.26" y="718.1" width="3.6" height="22.4" fill="#2d5a1b"/>
<rect x="118.64" y="713.2" width="3.6" height="27.3" fill="#700000"/>
<rect x="122.01" y="719.0" width="3.6" height="21.5" fill="#700000"/>
<rect x="125.39" y="719.0" width="3.6" height="21.5" fill="#2d5a1b"/>
<rect x="128.76" y="709.3" width="3.6" height="31.2" fill="#700000"/>
<rect x="132.13" y="715.1" width="3.6" height="25.4" fill="#2d5a1b"/>
<rect x="135.51" y="722.0" width="3.6" height="18.5" fill="#2d5a1b"/>
<rect x="138.88" y="720.0" width="3.6" height="20.5" fill="#700000"/>
<rect x="142.26" y="722.9" width="3.6" height="17.6" fill="#2d5a1b"/>
<rect x="145.63" y="720.0" width="3.6" height="20.5" fill="#700000"/>
<rect x="149.01" y="708.3" width="3.6" height="32.2" fill="#2d5a1b"/>
<rect x="152.38" y="720.0" width="3.6" height="20.5" fill="#2d5a1b"/>
<rect x="155.76" y="722.0" width="3.6" height="18.5" fill="#700000"/>
<rect x="159.13" y="724.9" width="3.6" height="15.6" fill="#2d5a1b"/>
<rect x="162.51" y="714.2" width="3.6" height="26.3" fill="#2d5a1b"/>
<rect x="165.88" y="689.8" width="3.6" height="50.7" fill="#2d5a1b"/>
<rect x="169.26" y="689.4" width="3.6" height="51.1" fill="#2d5a1b"/>
<rect x="172.63" y="715.1" width="3.6" height="25.4" fill="#2d5a1b"/>
<rect x="176.01" y="718.1" width="3.6" height="22.4" fill="#700000"/>
<rect x="179.38" y="714.2" width="3.6" height="26.3" fill="#700000"/>
<rect x="182.76" y="718.1" width="3.6" height="22.4" fill="#700000"/>
<rect x="186.13" y="716.7" width="3.6" height="23.8" fill="#2d5a1b"/>
<rect x="189.51" y="715.1" width="3.6" height="25.4" fill="#700000"/>
<rect x="192.88" y="701.5" width="3.6" height="39.0" fill="#700000"/>
<rect x="196.26" y="695.6" width="3.6" height="44.9" fill="#2d5a1b"/>
<rect x="199.63" y="709.3" width="3.6" height="31.2" fill="#2d5a1b"/>
<rect x="203.01" y="718.1" width="3.6" height="22.4" fill="#2d5a1b"/>
<rect x="206.38" y="713.2" width="3.6" height="27.3" fill="#2d5a1b"/>
<rect x="209.76" y="680.0" width="3.6" height="60.5" fill="#2d5a1b"/>
<rect x="213.13" y="661.5" width="3.6" height="79.0" fill="#2d5a1b"/>
<rect x="216.51" y="661.5" width="3.6" height="79.0" fill="#2d5a1b"/>
<rect x="219.88" y="660.5" width="3.6" height="80.0" fill="#700000"/>
<rect x="223.26" y="696.6" width="3.6" height="43.9" fill="#2d5a1b"/>
<rect x="226.63" y="702.5" width="3.6" height="38.0" fill="#2d5a1b"/>
<rect x="230.01" y="646.9" width="3.6" height="93.6" fill="#2d5a1b"/>
<rect x="233.38" y="673.2" width="3.6" height="67.3" fill="#700000"/>
<rect x="236.76" y="676.1" width="3.6" height="64.4" fill="#700000"/>
<rect x="240.13" y="669.3" width="3.6" height="71.2" fill="#700000"/>
<rect x="243.51" y="710.3" width="3.6" height="30.2" fill="#700000"/>
<rect x="246.88" y="714.2" width="3.6" height="26.3" fill="#2d5a1b"/>
<rect x="250.26" y="708.3" width="3.6" height="32.2" fill="#2d5a1b"/>
<rect x="253.63" y="715.1" width="3.6" height="25.4" fill="#2d5a1b"/>
<rect x="257.01" y="713.2" width="3.6" height="27.3" fill="#2d5a1b"/>
<rect x="260.38" y="714.2" width="3.6" height="26.3" fill="#700000"/>
<rect x="263.76" y="720.0" width="3.6" height="20.5" fill="#2d5a1b"/>
<rect x="267.13" y="719.0" width="3.6" height="21.5" fill="#700000"/>
<rect x="270.51" y="665.4" width="3.6" height="75.1" fill="#2d5a1b"/>
<rect x="273.88" y="701.5" width="3.6" height="39.0" fill="#700000"/>
<rect x="277.26" y="647.9" width="3.6" height="92.6" fill="#2d5a1b"/>
<rect x="280.63" y="672.2" width="3.6" height="68.3" fill="#700000"/>
<rect x="284.01" y="691.7" width="3.6" height="48.8" fill="#700000"/>
<rect x="287.38" y="692.7" width="3.6" height="47.8" fill="#700000"/>
<rect x="290.76" y="692.7" width="3.6" height="47.8" fill="#2d5a1b"/>
<rect x="294.13" y="693.7" width="3.6" height="46.8" fill="#2d5a1b"/>
<rect x="297.51" y="685.5" width="3.6" height="55.0" fill="#2d5a1b"/>
<rect x="300.88" y="684.5" width="3.6" height="56.0" fill="#700000"/>
<rect x="304.26" y="709.3" width="3.6" height="31.2" fill="#700000"/>
<rect x="307.63" y="690.4" width="3.6" height="50.1" fill="#2d5a1b"/>
<rect x="311.01" y="699.5" width="3.6" height="41.0" fill="#700000"/>
<rect x="314.38" y="706.8" width="3.6" height="33.7" fill="#700000"/>
<rect x="317.76" y="707.9" width="3.6" height="32.6" fill="#700000"/>
<rect x="321.13" y="691.7" width="3.6" height="48.8" fill="#700000"/>
<rect x="324.51" y="685.5" width="3.6" height="55.0" fill="#700000"/>
<rect x="327.88" y="700.5" width="3.6" height="40.0" fill="#2d5a1b"/>
<rect x="331.26" y="703.1" width="3.6" height="37.4" fill="#2d5a1b"/>
<rect x="334.63" y="703.1" width="3.6" height="37.4" fill="#2d5a1b"/>
<rect x="338.01" y="722.9" width="3.6" height="17.6" fill="#2d5a1b"/>
<rect x="341.38" y="715.1" width="3.6" height="25.4" fill="#2d5a1b"/>
<rect x="344.76" y="706.8" width="3.6" height="33.7" fill="#2d5a1b"/>
<rect x="348.13" y="709.3" width="3.6" height="31.2" fill="#700000"/>
<rect x="351.51" y="707.3" width="3.6" height="33.2" fill="#2d5a1b"/>
<rect x="354.88" y="705.4" width="3.6" height="35.1" fill="#2d5a1b"/>
<rect x="358.26" y="705.4" width="3.6" height="35.1" fill="#2d5a1b"/>
<rect x="361.63" y="700.5" width="3.6" height="40.0" fill="#700000"/>
<rect x="365.01" y="626.8" width="3.6" height="113.7" fill="#700000"/>
<rect x="368.38" y="667.4" width="3.6" height="73.1" fill="#2d5a1b"/>
<rect x="371.76" y="699.5" width="3.6" height="41.0" fill="#2d5a1b"/>
<rect x="375.13" y="700.5" width="3.6" height="40.0" fill="#700000"/>
<rect x="378.51" y="711.2" width="3.6" height="29.3" fill="#700000"/>
<rect x="381.88" y="690.4" width="3.6" height="50.1" fill="#2d5a1b"/>
<rect x="385.26" y="703.4" width="3.6" height="37.1" fill="#2d5a1b"/>
<rect x="388.63" y="701.5" width="3.6" height="39.0" fill="#700000"/>
<rect x="392.01" y="703.1" width="3.6" height="37.4" fill="#700000"/>
<rect x="395.38" y="719.0" width="3.6" height="21.5" fill="#2d5a1b"/>
<rect x="398.76" y="720.0" width="3.6" height="20.5" fill="#700000"/>
<rect x="402.13" y="707.9" width="3.6" height="32.6" fill="#700000"/>
<rect x="405.51" y="714.6" width="3.6" height="25.9" fill="#2d5a1b"/>
<rect x="408.88" y="719.0" width="3.6" height="21.5" fill="#2d5a1b"/>
<rect x="412.26" y="711.6" width="3.6" height="28.9" fill="#700000"/>
<rect x="415.63" y="713.2" width="3.6" height="27.3" fill="#2d5a1b"/>
<rect x="419.01" y="718.1" width="3.6" height="22.4" fill="#700000"/>
<rect x="422.38" y="695.6" width="3.6" height="44.9" fill="#700000"/>
<rect x="425.76" y="684.5" width="3.6" height="56.0" fill="#700000"/>
<rect x="429.13" y="710.3" width="3.6" height="30.2" fill="#2d5a1b"/>
<rect x="432.51" y="700.5" width="3.6" height="40.0" fill="#700000"/>
<rect x="435.88" y="701.9" width="3.6" height="38.6" fill="#700000"/>
<rect x="439.26" y="690.4" width="3.6" height="50.1" fill="#2d5a1b"/>
<rect x="442.63" y="698.2" width="3.6" height="42.3" fill="#2d5a1b"/>
<rect x="446.01" y="713.2" width="3.6" height="27.3" fill="#700000"/>
<rect x="449.38" y="719.0" width="3.6" height="21.5" fill="#700000"/>
<rect x="452.76" y="715.1" width="3.6" height="25.4" fill="#700000"/>
<rect x="456.13" y="710.7" width="3.6" height="29.8" fill="#700000"/>
<rect x="459.51" y="711.6" width="3.6" height="28.9" fill="#700000"/>
<rect x="462.88" y="680.4" width="3.6" height="60.1" fill="#2d5a1b"/>
<rect x="466.26" y="709.3" width="3.6" height="31.2" fill="#2d5a1b"/>
<rect x="469.63" y="713.2" width="3.6" height="27.3" fill="#700000"/>
<rect x="473.01" y="706.4" width="3.6" height="34.1" fill="#2d5a1b"/>
<rect x="476.38" y="716.7" width="3.6" height="23.8" fill="#700000"/>
<rect x="479.76" y="707.0" width="3.6" height="33.5" fill="#700000"/>
<rect x="483.13" y="722.9" width="3.6" height="17.6" fill="#2d5a1b"/>
<rect x="486.51" y="718.1" width="3.6" height="22.4" fill="#2d5a1b"/>
<rect x="489.88" y="716.7" width="3.6" height="23.8" fill="#2d5a1b"/>
<rect x="493.26" y="703.1" width="3.6" height="37.4" fill="#2d5a1b"/>
<rect x="496.63" y="708.3" width="3.6" height="32.2" fill="#2d5a1b"/>
<rect x="500.01" y="707.3" width="3.6" height="33.2" fill="#700000"/>
<rect x="503.38" y="718.1" width="3.6" height="22.4" fill="#2d5a1b"/>
<rect x="506.76" y="718.1" width="3.6" height="22.4" fill="#700000"/>
<rect x="510.13" y="720.0" width="3.6" height="20.5" fill="#2d5a1b"/>
<rect x="513.51" y="712.2" width="3.6" height="28.3" fill="#2d5a1b"/>
<rect x="516.88" y="695.6" width="3.6" height="44.9" fill="#700000"/>
<rect x="520.26" y="711.2" width="3.6" height="29.3" fill="#2d5a1b"/>
<rect x="523.63" y="716.7" width="3.6" height="23.8" fill="#700000"/>
<rect x="527.01" y="690.4" width="3.6" height="50.1" fill="#700000"/>
<rect x="530.38" y="689.8" width="3.6" height="50.7" fill="#2d5a1b"/>
<rect x="533.76" y="674.6" width="3.6" height="65.9" fill="#2d5a1b"/>
<rect x="537.13" y="696.6" width="3.6" height="43.9" fill="#2d5a1b"/>
<rect x="540.51" y="719.0" width="3.6" height="21.5" fill="#2d5a1b"/>
<rect x="543.88" y="715.1" width="3.6" height="25.4" fill="#700000"/>
<rect x="547.26" y="714.2" width="3.6" height="26.3" fill="#2d5a1b"/>
<rect x="550.63" y="723.9" width="3.6" height="16.6" fill="#700000"/>
<rect x="554.01" y="720.6" width="3.6" height="19.9" fill="#700000"/>
<rect x="557.38" y="710.3" width="3.6" height="30.2" fill="#2d5a1b"/>
<rect x="560.76" y="707.3" width="3.6" height="33.2" fill="#700000"/>
<rect x="564.13" y="705.8" width="3.6" height="34.7" fill="#2d5a1b"/>
<rect x="567.51" y="719.0" width="3.6" height="21.5" fill="#2d5a1b"/>
<rect x="570.88" y="705.8" width="3.6" height="34.7" fill="#700000"/>
<rect x="574.26" y="715.1" width="3.6" height="25.4" fill="#700000"/>
<rect x="577.63" y="718.1" width="3.6" height="22.4" fill="#2d5a1b"/>
<rect x="581.01" y="715.1" width="3.6" height="25.4" fill="#700000"/>
<rect x="584.38" y="722.9" width="3.6" height="17.6" fill="#2d5a1b"/>
<rect x="587.76" y="713.2" width="3.6" height="27.3" fill="#2d5a1b"/>
<rect x="591.13" y="685.5" width="3.6" height="55.0" fill="#2d5a1b"/>
<rect x="594.51" y="684.5" width="3.6" height="56.0" fill="#700000"/>
<rect x="597.88" y="684.5" width="3.6" height="56.0" fill="#700000"/>
<rect x="601.26" y="707.3" width="3.6" height="33.2" fill="#2d5a1b"/>
<rect x="604.63" y="693.1" width="3.6" height="47.4" fill="#2d5a1b"/>
<rect x="608.01" y="639.5" width="3.6" height="101.0" fill="#2d5a1b"/>
<rect x="611.38" y="683.0" width="3.6" height="57.5" fill="#2d5a1b"/>
<rect x="614.76" y="704.4" width="3.6" height="36.1" fill="#2d5a1b"/>
<rect x="618.13" y="710.3" width="3.6" height="30.2" fill="#2d5a1b"/>
<rect x="621.51" y="658.2" width="3.6" height="82.3" fill="#2d5a1b"/>
<rect x="624.88" y="678.1" width="3.6" height="62.4" fill="#700000"/>
<rect x="628.26" y="699.5" width="3.6" height="41.0" fill="#2d5a1b"/>
<rect x="631.63" y="686.5" width="3.6" height="54.0" fill="#700000"/>
<rect x="635.01" y="707.9" width="3.6" height="32.6" fill="#700000"/>
<rect x="638.38" y="665.4" width="3.6" height="75.1" fill="#700000"/>
<rect x="641.76" y="696.6" width="3.6" height="43.9" fill="#2d5a1b"/>
<rect x="645.13" y="699.5" width="3.6" height="41.0" fill="#2d5a1b"/>
<rect x="648.51" y="691.7" width="3.6" height="48.8" fill="#2d5a1b"/>
<rect x="651.88" y="676.7" width="3.6" height="63.8" fill="#2d5a1b"/>
<rect x="655.26" y="696.6" width="3.6" height="43.9" fill="#2d5a1b"/>
<rect x="658.63" y="693.1" width="3.6" height="47.4" fill="#700000"/>
<rect x="662.01" y="715.1" width="3.6" height="25.4" fill="#2d5a1b"/>
<rect x="665.38" y="681.6" width="3.6" height="58.9" fill="#2d5a1b"/>
<rect x="668.76" y="671.9" width="3.6" height="68.6" fill="#700000"/>
<rect x="672.13" y="688.8" width="3.6" height="51.7" fill="#700000"/>
<rect x="675.51" y="669.3" width="3.6" height="71.2" fill="#700000"/>
<rect x="678.88" y="694.3" width="3.6" height="46.2" fill="#2d5a1b"/>
<rect x="682.26" y="676.7" width="3.6" height="63.8" fill="#700000"/>
<rect x="685.63" y="695.6" width="3.6" height="44.9" fill="#2d5a1b"/>
<rect x="689.01" y="706.8" width="3.6" height="33.7" fill="#700000"/>
<rect x="692.38" y="686.9" width="3.6" height="53.6" fill="#2d5a1b"/>
<rect x="695.76" y="696.6" width="3.6" height="43.9" fill="#2d5a1b"/>
<rect x="699.13" y="695.6" width="3.6" height="44.9" fill="#2d5a1b"/>
<rect x="702.51" y="722.0" width="3.6" height="18.5" fill="#700000"/>
<rect x="705.88" y="713.2" width="3.6" height="27.3" fill="#700000"/>
<rect x="709.26" y="729.4" width="3.6" height="11.1" fill="#2d5a1b"/>
<rect x="712.63" y="729.4" width="3.6" height="11.1" fill="#700000"/>
<rect x="716.01" y="718.1" width="3.6" height="22.4" fill="#2d5a1b"/>
<rect x="719.38" y="695.6" width="3.6" height="44.9" fill="#700000"/>
<rect x="722.76" y="714.2" width="3.6" height="26.3" fill="#700000"/>
<rect x="726.13" y="719.0" width="3.6" height="21.5" fill="#700000"/>
<rect x="729.51" y="719.0" width="3.6" height="21.5" fill="#700000"/>
<rect x="732.88" y="688.4" width="3.6" height="52.1" fill="#700000"/>
<rect x="736.26" y="729.4" width="3.6" height="11.1" fill="#2d5a1b"/>
<rect x="739.63" y="715.1" width="3.6" height="25.4" fill="#2d5a1b"/>
<rect x="743.01" y="722.0" width="3.6" height="18.5" fill="#2d5a1b"/>
<rect x="746.38" y="715.1" width="3.6" height="25.4" fill="#2d5a1b"/>
<rect x="749.76" y="711.2" width="3.6" height="29.3" fill="#700000"/>
<rect x="753.13" y="720.6" width="3.6" height="19.9" fill="#2d5a1b"/>
<rect x="756.51" y="722.0" width="3.6" height="18.5" fill="#700000"/>
<rect x="759.88" y="708.3" width="3.6" height="32.2" fill="#2d5a1b"/>
<rect x="763.26" y="660.5" width="3.6" height="80.0" fill="#2d5a1b"/>
<rect x="766.63" y="676.7" width="3.6" height="63.8" fill="#2d5a1b"/>
<rect x="770.01" y="699.8" width="3.6" height="40.7" fill="#2d5a1b"/>
<rect x="773.38" y="697.0" width="3.6" height="43.5" fill="#700000"/>
<rect x="776.76" y="709.1" width="3.6" height="31.4" fill="#2d5a1b"/>
<rect x="780.13" y="709.1" width="3.6" height="31.4" fill="#2d5a1b"/>
<rect x="783.51" y="657.9" width="3.6" height="82.6" fill="#2d5a1b"/>
<rect x="786.88" y="689.3" width="3.6" height="51.2" fill="#700000"/>
<rect x="790.26" y="707.9" width="3.6" height="32.6" fill="#2d5a1b"/>
<rect x="793.63" y="645.2" width="3.6" height="95.3" fill="#700000"/>
<rect x="797.01" y="702.1" width="3.6" height="38.4" fill="#2d5a1b"/>
<rect x="800.38" y="702.1" width="3.6" height="38.4" fill="#700000"/>
<rect x="803.76" y="720.7" width="3.6" height="19.8" fill="#2d5a1b"/>
<rect x="807.13" y="718.4" width="3.6" height="22.1" fill="#2d5a1b"/>
<rect x="810.51" y="699.8" width="3.6" height="40.7" fill="#700000"/>
<rect x="813.88" y="718.4" width="3.6" height="22.1" fill="#2d5a1b"/>
<rect x="817.26" y="699.8" width="3.6" height="40.7" fill="#2d5a1b"/>
<rect x="820.63" y="687.0" width="3.6" height="53.5" fill="#2d5a1b"/>
<rect x="824.01" y="697.5" width="3.6" height="43.0" fill="#2d5a1b"/>
<rect x="827.38" y="704.5" width="3.6" height="36.0" fill="#700000"/>
<rect x="830.76" y="711.4" width="3.6" height="29.1" fill="#2d5a1b"/>
<rect x="834.13" y="710.3" width="3.6" height="30.2" fill="#2d5a1b"/>
<rect x="837.51" y="684.7" width="3.6" height="55.8" fill="#2d5a1b"/>
<rect x="840.88" y="645.2" width="3.6" height="95.3" fill="#2d5a1b"/>
<rect x="844.26" y="655.6" width="3.6" height="84.9" fill="#2d5a1b"/>
<rect x="847.63" y="606.8" width="3.6" height="133.7" fill="#700000"/>
<rect x="851.01" y="695.2" width="3.6" height="45.3" fill="#2d5a1b"/>
<rect x="854.38" y="680.0" width="3.6" height="60.5" fill="#2d5a1b"/>
<rect x="857.76" y="659.8" width="3.6" height="80.7" fill="#2d5a1b"/>
<rect x="861.13" y="625.4" width="3.6" height="115.1" fill="#700000"/>
<rect x="864.51" y="699.8" width="3.6" height="40.7" fill="#700000"/>
<rect x="867.88" y="699.3" width="3.6" height="41.2" fill="#2d5a1b"/>
<rect x="871.26" y="698.6" width="3.6" height="41.9" fill="#2d5a1b"/>
<rect x="874.63" y="709.1" width="3.6" height="31.4" fill="#700000"/>
<rect x="878.01" y="684.7" width="3.6" height="55.8" fill="#700000"/>
<rect x="881.38" y="699.3" width="3.6" height="41.2" fill="#2d5a1b"/>
<rect x="884.76" y="713.8" width="3.6" height="26.7" fill="#2d5a1b"/>
<rect x="888.13" y="691.7" width="3.6" height="48.8" fill="#700000"/>
<rect x="891.51" y="704.5" width="3.6" height="36.0" fill="#2d5a1b"/>
<rect x="894.88" y="723.1" width="3.6" height="17.4" fill="#700000"/>
<rect x="898.26" y="709.1" width="3.6" height="31.4" fill="#2d5a1b"/>
<rect x="901.63" y="707.9" width="3.6" height="32.6" fill="#700000"/>
<rect x="905.01" y="712.6" width="3.6" height="27.9" fill="#700000"/>
<rect x="908.38" y="692.8" width="3.6" height="47.7" fill="#2d5a1b"/>
<rect x="911.76" y="648.2" width="3.6" height="92.3" fill="#700000"/>
<rect x="915.13" y="569.1" width="3.6" height="171.4" fill="#700000"/>
<rect x="918.51" y="613.3" width="3.6" height="127.2" fill="#700000"/>
<rect x="921.88" y="727.7" width="3.6" height="12.8" fill="#700000"/>
</g>
<rect x="217.6" y="556" width="2.2" height="105" fill="#23481a"/>
<polyline points="55.9,713.2 79.3,711.3 96.8,709.3 114.4,711.9 128.0,712.9 147.5,717.1 163.1,717.1 170.9,713.2 194.3,712.9 206.0,711.9 213.8,707.0 221.6,696.3 233.3,688.5 243.1,685.6 262.6,685.6 268.4,688.1 278.2,683.6 283.0,684.0 286.9,691.4 295.7,691.4 295.9,691.0 299.8,693.4 309.5,695.9 319.3,695.9 329.0,691.4 335.8,690.4 344.6,696.3 356.3,701.2 364.1,700.8 370.0,696.9 381.7,697.3 391.4,697.3 403.1,700.8 414.8,699.6 426.5,700.2 430.4,699.6 436.3,704.1 446.0,704.7 455.8,707.0 465.5,706.0 477.2,704.7 492.8,706.0 504.5,708.0 514.3,710.9 527.9,709.0 530.0,709.9 537.8,707.0 549.5,708.6 565.1,708.0 569.0,709.3 571.9,708.0 582.7,708.0 588.5,709.3 600.2,707.0 605.1,708.6 613.9,701.7 618.7,701.2 626.5,695.9 635.3,694.3 641.2,691.4 649.0,689.8 656.8,685.6 664.6,688.1 671.4,685.2 680.2,687.5 687.0,685.6 692.8,689.5 697.7,688.5 703.6,689.8 713.3,695.3 725.0,698.8 734.8,701.2 748.4,708.0 761.1,713.2 766.9,710.9 770.0,710.0 784.0,704.2 797.9,698.4 816.5,696.7 825.8,693.7 837.4,698.4 849.1,688.6 856.0,689.1 863.0,685.6 879.3,680.5 890.9,680.5 902.6,682.1 910.7,685.6 920.0,679.8 924.2,681.6" fill="none" stroke="#e58a3c" stroke-width="1.15" stroke-linejoin="round"/>
<rect x="52.6" y="579.0" width="21.2" height="4.2" fill="#ffff00"/>
<rect x="73.8" y="602.6" width="80.1" height="4.2" fill="#ffff00"/>
<rect x="154.0" y="558.5" width="80.9" height="4.2" fill="#ffff00"/>
<rect x="235.3" y="404.2" width="81.0" height="4.2" fill="#ffff00"/>
<rect x="316.3" y="421.2" width="81.7" height="4.2" fill="#ffff00"/>
<rect x="398.0" y="518.2" width="79.5" height="4.2" fill="#ffff00"/>
<rect x="477.5" y="470.7" width="81.4" height="4.2" fill="#ffff00"/>
<rect x="558.9" y="283.5" width="81.3" height="4.2" fill="#ffff00"/>
<rect x="640.2" y="313.7" width="81.5" height="4.2" fill="#ffff00"/>
<rect x="721.7" y="341.8" width="80.1" height="4.2" fill="#ffff00"/>
<rect x="801.8" y="168.0" width="81.0" height="4.2" fill="#ffff00"/>
<rect x="882.8" y="174.0" width="44.0" height="4.2" fill="#ffff00"/>
<line x1="52.5" y1="233.2" x2="1724.0" y2="233.2" stroke="#ffff00" stroke-width="4.4" />
<line x1="52.5" y1="561" x2="1724.0" y2="561" stroke="#ffff00" stroke-width="4.5" />
<line x1="52.5" y1="535.9" x2="1724.0" y2="535.9" stroke="#9c0000" stroke-width="4.4" />
<line x1="722" y1="343.8" x2="1203" y2="343.8" stroke="#ffff00" stroke-width="4.2" />
<line x1="427" y1="472.7" x2="1237" y2="472.7" stroke="#ffff00" stroke-width="4.2" />
<line x1="370" y1="520.2" x2="1167" y2="520.2" stroke="#ffff00" stroke-width="4.2" />
<line x1="281" y1="234" x2="738" y2="375" stroke="#ffff00" stroke-width="4.2" stroke-linecap="round"/>
<line x1="738" y1="375" x2="923" y2="236" stroke="#ffff00" stroke-width="4.2" stroke-linecap="round"/>
<line x1="52" y1="260.2" x2="1437" y2="0" stroke="#3b6fd4" stroke-width="3.2" />
<line x1="52" y1="649.3" x2="1725" y2="334" stroke="#f7b731" stroke-width="2.8" />
<line x1="56" y1="561.6" x2="453.5" y2="743.2" stroke="#ff9800" stroke-width="3.5" />
<ellipse cx="951" cy="473" rx="37" ry="25.5" fill="none" stroke="#ffff00" stroke-width="3.2"/>
<g fill="#8e9197"><rect x="55.35" y="567.5" width="1.7" height="10.5"/><rect x="58.73" y="566.0" width="1.7" height="12.0"/><rect x="62.10" y="576.0" width="1.7" height="35.5"/><rect x="65.48" y="590.4" width="1.7" height="20.3"/><rect x="68.85" y="576.3" width="1.7" height="17.7"/><rect x="72.23" y="589.0" width="1.7" height="5.6"/><rect x="75.60" y="589.4" width="1.7" height="15.5"/><rect x="78.98" y="602.0" width="1.7" height="32.5"/><rect x="82.35" y="628.0" width="1.7" height="13.5"/><rect x="85.73" y="621.0" width="1.7" height="11.0"/><rect x="89.10" y="624.7" width="1.7" height="13.3"/><rect x="92.48" y="626.0" width="1.7" height="16.4"/><rect x="95.85" y="606.3" width="1.7" height="20.2"/><rect x="99.23" y="613.0" width="1.7" height="10.0"/><rect x="102.60" y="609.0" width="1.7" height="12.0"/><rect x="105.98" y="611.0" width="1.7" height="12.0"/><rect x="109.35" y="597.5" width="1.7" height="14.9"/><rect x="112.73" y="597.5" width="1.7" height="19.0"/><rect x="116.10" y="584.3" width="1.7" height="23.4"/><rect x="119.48" y="584.3" width="1.7" height="18.7"/><rect x="122.85" y="597.5" width="1.7" height="18.5"/><rect x="126.23" y="602.0" width="1.7" height="18.4"/><rect x="129.60" y="602.7" width="1.7" height="22.9"/><rect x="132.97" y="603.0" width="1.7" height="17.4"/><rect x="136.35" y="601.3" width="1.7" height="5.0"/><rect x="139.72" y="602.0" width="1.7" height="13.0"/><rect x="143.10" y="609.0" width="1.7" height="7.0"/><rect x="146.47" y="608.0" width="1.7" height="10.6"/><rect x="149.85" y="589.5" width="1.7" height="22.0"/><rect x="153.22" y="587.8" width="1.7" height="8.2"/><rect x="156.60" y="587.8" width="1.7" height="19.2"/><rect x="159.97" y="600.0" width="1.7" height="9.8"/><rect x="163.35" y="593.0" width="1.7" height="17.7"/><rect x="166.72" y="572.0" width="1.7" height="29.0"/><rect x="170.10" y="536.2" width="1.7" height="38.4"/><rect x="173.47" y="550.0" width="1.7" height="12.0"/><rect x="176.85" y="550.0" width="1.7" height="10.0"/><rect x="180.22" y="559.0" width="1.7" height="13.8"/><rect x="183.60" y="563.0" width="1.7" height="9.8"/><rect x="186.97" y="557.0" width="1.7" height="14.0"/><rect x="190.35" y="550.3" width="1.7" height="12.0"/><rect x="193.72" y="537.6" width="1.7" height="31.9"/><rect x="197.10" y="568.0" width="1.7" height="17.5"/><rect x="200.47" y="547.3" width="1.7" height="22.2"/><rect x="203.85" y="552.6" width="1.7" height="10.5"/><rect x="207.22" y="541.1" width="1.7" height="17.6"/><rect x="210.60" y="520.0" width="1.7" height="26.0"/><rect x="213.97" y="512.0" width="1.7" height="18.0"/><rect x="217.35" y="410.2" width="1.7" height="109.8"/><rect x="220.72" y="436.6" width="1.7" height="33.4"/><rect x="224.10" y="464.0" width="1.7" height="8.0"/><rect x="227.47" y="435.7" width="1.7" height="36.8"/><rect x="230.85" y="391.3" width="1.7" height="48.7"/><rect x="234.22" y="396.0" width="1.7" height="43.4"/><rect x="237.60" y="397.0" width="1.7" height="31.5"/><rect x="240.97" y="427.0" width="1.7" height="33.2"/><rect x="244.35" y="435.7" width="1.7" height="20.3"/><rect x="247.72" y="436.0" width="1.7" height="21.4"/><rect x="251.10" y="418.7" width="1.7" height="20.7"/><rect x="254.47" y="428.0" width="1.7" height="10.0"/><rect x="257.85" y="416.8" width="1.7" height="14.2"/><rect x="261.22" y="415.8" width="1.7" height="20.8"/><rect x="264.60" y="420.0" width="1.7" height="13.4"/><rect x="267.97" y="420.0" width="1.7" height="12.8"/><rect x="271.35" y="395.0" width="1.7" height="33.0"/><rect x="274.72" y="395.0" width="1.7" height="18.0"/><rect x="278.10" y="342.3" width="1.7" height="60.7"/><rect x="281.47" y="356.4" width="1.7" height="30.2"/><rect x="284.85" y="369.6" width="1.7" height="14.4"/><rect x="288.22" y="382.0" width="1.7" height="34.8"/><rect x="291.60" y="393.2" width="1.7" height="33.0"/><rect x="294.97" y="368.0" width="1.7" height="30.0"/><rect x="298.35" y="348.9" width="1.7" height="21.6"/><rect x="301.72" y="333.8" width="1.7" height="39.6"/><rect x="305.10" y="347.9" width="1.7" height="32.6"/><rect x="308.47" y="354.5" width="1.7" height="33.0"/><rect x="311.85" y="334.7" width="1.7" height="34.0"/><rect x="315.22" y="359.2" width="1.7" height="33.1"/><rect x="318.60" y="364.9" width="1.7" height="22.1"/><rect x="321.97" y="376.2" width="1.7" height="43.8"/><rect x="325.35" y="418.0" width="1.7" height="7.0"/><rect x="328.72" y="404.5" width="1.7" height="22.7"/><rect x="332.10" y="405.5" width="1.7" height="35.8"/><rect x="335.47" y="406.4" width="1.7" height="15.6"/><rect x="338.85" y="409.0" width="1.7" height="12.0"/><rect x="342.22" y="404.5" width="1.7" height="21.7"/><rect x="345.60" y="379.0" width="1.7" height="43.5"/><rect x="348.97" y="374.1" width="1.7" height="23.9"/><rect x="352.35" y="388.0" width="1.7" height="25.3"/><rect x="355.72" y="381.1" width="1.7" height="8.9"/><rect x="359.10" y="369.1" width="1.7" height="24.1"/><rect x="362.47" y="372.5" width="1.7" height="35.8"/><rect x="365.85" y="399.0" width="1.7" height="79.7"/><rect x="369.22" y="429.4" width="1.7" height="52.3"/><rect x="372.60" y="410.3" width="1.7" height="32.7"/><rect x="375.97" y="439.0" width="1.7" height="33.7"/><rect x="379.35" y="429.4" width="1.7" height="31.6"/><rect x="382.72" y="429.4" width="1.7" height="39.3"/><rect x="386.10" y="416.3" width="1.7" height="23.7"/><rect x="389.47" y="417.3" width="1.7" height="30.2"/><rect x="392.85" y="429.4" width="1.7" height="37.2"/><rect x="396.22" y="434.4" width="1.7" height="25.6"/><rect x="399.60" y="436.0" width="1.7" height="12.0"/><rect x="402.97" y="442.5" width="1.7" height="34.2"/><rect x="406.35" y="454.0" width="1.7" height="18.7"/><rect x="409.72" y="451.5" width="1.7" height="5.5"/><rect x="413.10" y="454.0" width="1.7" height="30.0"/><rect x="416.47" y="467.6" width="1.7" height="23.2"/><rect x="419.85" y="468.4" width="1.7" height="22.1"/><rect x="423.22" y="482.0" width="1.7" height="30.0"/><rect x="426.60" y="509.0" width="1.7" height="18.8"/><rect x="429.97" y="504.6" width="1.7" height="13.9"/><rect x="433.35" y="510.0" width="1.7" height="15.8"/><rect x="436.72" y="520.0" width="1.7" height="14.0"/><rect x="440.10" y="515.5" width="1.7" height="24.3"/><rect x="443.47" y="485.5" width="1.7" height="31.5"/><rect x="446.85" y="490.5" width="1.7" height="14.5"/><rect x="450.22" y="496.6" width="1.7" height="26.1"/><rect x="453.60" y="493.0" width="1.7" height="21.0"/><rect x="456.97" y="512.0" width="1.7" height="26.8"/><rect x="460.35" y="514.7" width="1.7" height="24.1"/><rect x="463.72" y="475.5" width="1.7" height="63.3"/><rect x="467.10" y="469.4" width="1.7" height="22.6"/><rect x="470.47" y="475.0" width="1.7" height="21.6"/><rect x="473.85" y="462.8" width="1.7" height="29.8"/><rect x="477.22" y="467.0" width="1.7" height="23.0"/><rect x="480.60" y="480.5" width="1.7" height="27.1"/><rect x="483.97" y="498.0" width="1.7" height="10.7"/><rect x="487.35" y="479.0" width="1.7" height="21.0"/><rect x="490.72" y="466.0" width="1.7" height="16.0"/><rect x="494.10" y="447.3" width="1.7" height="36.2"/><rect x="497.47" y="442.3" width="1.7" height="16.7"/><rect x="500.85" y="447.3" width="1.7" height="31.2"/><rect x="504.22" y="454.3" width="1.7" height="25.2"/><rect x="507.60" y="464.4" width="1.7" height="15.1"/><rect x="510.97" y="462.0" width="1.7" height="9.0"/><rect x="514.35" y="444.3" width="1.7" height="20.7"/><rect x="517.73" y="450.3" width="1.7" height="36.2"/><rect x="521.10" y="474.0" width="1.7" height="13.5"/><rect x="524.48" y="474.0" width="1.7" height="13.5"/><rect x="527.85" y="466.4" width="1.7" height="25.1"/><rect x="531.23" y="465.4" width="1.7" height="23.6"/><rect x="534.60" y="430.2" width="1.7" height="39.8"/><rect x="537.98" y="418.1" width="1.7" height="22.1"/><rect x="541.35" y="422.1" width="1.7" height="12.4"/><rect x="544.73" y="421.7" width="1.7" height="13.3"/><rect x="548.10" y="424.1" width="1.7" height="17.1"/><rect x="551.48" y="428.2" width="1.7" height="8.8"/><rect x="554.85" y="423.1" width="1.7" height="18.9"/><rect x="558.23" y="406.5" width="1.7" height="35.5"/><rect x="561.60" y="390.7" width="1.7" height="19.3"/><rect x="564.98" y="381.7" width="1.7" height="27.8"/><rect x="568.35" y="370.6" width="1.7" height="22.4"/><rect x="571.73" y="384.0" width="1.7" height="8.0"/><rect x="575.10" y="388.0" width="1.7" height="19.8"/><rect x="578.48" y="383.0" width="1.7" height="19.8"/><rect x="581.85" y="371.6" width="1.7" height="26.9"/><rect x="585.23" y="377.0" width="1.7" height="21.0"/><rect x="588.60" y="361.0" width="1.7" height="19.0"/><rect x="591.98" y="336.4" width="1.7" height="26.6"/><rect x="595.35" y="326.3" width="1.7" height="29.7"/><rect x="598.73" y="354.0" width="1.7" height="28.7"/><rect x="602.10" y="340.4" width="1.7" height="34.6"/><rect x="605.48" y="320.0" width="1.7" height="27.0"/><rect x="608.85" y="316.0" width="1.7" height="8.0"/><rect x="612.23" y="294.4" width="1.7" height="25.6"/><rect x="615.60" y="288.0" width="1.7" height="22.5"/><rect x="618.98" y="282.0" width="1.7" height="20.5"/><rect x="622.35" y="239.1" width="1.7" height="45.9"/><rect x="625.73" y="245.1" width="1.7" height="30.9"/><rect x="629.10" y="257.2" width="1.7" height="18.8"/><rect x="632.48" y="261.2" width="1.7" height="35.2"/><rect x="635.85" y="274.3" width="1.7" height="23.1"/><rect x="639.23" y="283.0" width="1.7" height="59.7"/><rect x="642.60" y="327.0" width="1.7" height="6.0"/><rect x="645.98" y="302.0" width="1.7" height="29.0"/><rect x="649.35" y="267.3" width="1.7" height="37.7"/><rect x="652.73" y="250.2" width="1.7" height="39.2"/><rect x="656.10" y="250.2" width="1.7" height="23.3"/><rect x="659.48" y="246.1" width="1.7" height="36.2"/><rect x="662.85" y="256.2" width="1.7" height="19.8"/><rect x="666.23" y="240.1" width="1.7" height="28.9"/><rect x="669.60" y="234.1" width="1.7" height="58.3"/><rect x="672.98" y="261.2" width="1.7" height="33.8"/><rect x="676.35" y="284.4" width="1.7" height="54.3"/><rect x="679.73" y="299.0" width="1.7" height="33.0"/><rect x="683.10" y="299.8" width="1.7" height="48.2"/><rect x="686.48" y="331.0" width="1.7" height="21.8"/><rect x="689.85" y="318.6" width="1.7" height="17.4"/><rect x="693.23" y="305.1" width="1.7" height="44.6"/><rect x="696.60" y="291.4" width="1.7" height="18.6"/><rect x="699.98" y="287.8" width="1.7" height="11.2"/><rect x="703.35" y="287.8" width="1.7" height="13.2"/><rect x="706.73" y="299.0" width="1.7" height="32.6"/><rect x="710.10" y="305.5" width="1.7" height="20.5"/><rect x="713.48" y="315.5" width="1.7" height="13.5"/><rect x="716.85" y="306.5" width="1.7" height="28.2"/><rect x="720.23" y="294.4" width="1.7" height="25.6"/><rect x="723.60" y="317.0" width="1.7" height="22.0"/><rect x="726.98" y="325.0" width="1.7" height="14.5"/><rect x="730.35" y="320.6" width="1.7" height="20.4"/><rect x="733.73" y="338.0" width="1.7" height="34.9"/><rect x="737.10" y="347.0" width="1.7" height="19.0"/><rect x="740.48" y="333.7" width="1.7" height="23.1"/><rect x="743.85" y="333.7" width="1.7" height="7.3"/><rect x="747.23" y="327.7" width="1.7" height="13.3"/><rect x="750.60" y="333.0" width="1.7" height="24.9"/><rect x="753.98" y="330.1" width="1.7" height="19.4"/><rect x="757.35" y="336.0" width="1.7" height="9.0"/><rect x="760.73" y="325.3" width="1.7" height="19.7"/><rect x="764.10" y="281.0" width="1.7" height="50.0"/><rect x="767.48" y="267.7" width="1.7" height="25.8"/><rect x="770.85" y="258.0" width="1.7" height="15.0"/><rect x="774.23" y="259.3" width="1.7" height="35.8"/><rect x="777.60" y="272.0" width="1.7" height="19.5"/><rect x="780.98" y="262.3" width="1.7" height="12.7"/><rect x="784.35" y="244.2" width="1.7" height="37.2"/><rect x="787.73" y="245.2" width="1.7" height="30.2"/><rect x="791.10" y="238.0" width="1.7" height="18.0"/><rect x="794.48" y="212.0" width="1.7" height="55.7"/><rect x="797.85" y="250.8" width="1.7" height="15.2"/><rect x="801.23" y="255.5" width="1.7" height="30.9"/><rect x="804.60" y="262.0" width="1.7" height="22.4"/><rect x="807.98" y="250.2" width="1.7" height="14.8"/><rect x="811.35" y="259.0" width="1.7" height="18.4"/><rect x="814.73" y="269.3" width="1.7" height="23.2"/><rect x="818.10" y="272.0" width="1.7" height="13.4"/><rect x="821.48" y="241.2" width="1.7" height="34.8"/><rect x="824.85" y="230.0" width="1.7" height="28.3"/><rect x="828.23" y="230.0" width="1.7" height="27.3"/><rect x="831.60" y="242.0" width="1.7" height="16.9"/><rect x="834.98" y="240.0" width="1.7" height="8.0"/><rect x="838.35" y="221.0" width="1.7" height="24.0"/><rect x="841.73" y="212.0" width="1.7" height="14.0"/><rect x="845.10" y="165.4" width="1.7" height="49.6"/><rect x="848.48" y="152.3" width="1.7" height="54.3"/><rect x="851.85" y="158.4" width="1.7" height="29.1"/><rect x="855.23" y="150.3" width="1.7" height="22.7"/><rect x="858.60" y="132.2" width="1.7" height="27.8"/><rect x="861.98" y="112.5" width="1.7" height="41.5"/><rect x="865.35" y="139.2" width="1.7" height="38.3"/><rect x="868.73" y="142.3" width="1.7" height="31.7"/><rect x="872.10" y="126.2" width="1.7" height="26.8"/><rect x="875.48" y="140.0" width="1.7" height="15.0"/><rect x="878.85" y="151.0" width="1.7" height="42.6"/><rect x="882.23" y="151.3" width="1.7" height="39.2"/><rect x="885.60" y="140.2" width="1.7" height="14.8"/><rect x="888.98" y="145.0" width="1.7" height="36.0"/><rect x="892.35" y="164.4" width="1.7" height="18.6"/><rect x="895.73" y="165.0" width="1.7" height="16.0"/><rect x="899.10" y="164.4" width="1.7" height="16.6"/><rect x="902.48" y="171.0" width="1.7" height="13.0"/><rect x="905.85" y="177.5" width="1.7" height="24.1"/><rect x="909.23" y="187.5" width="1.7" height="22.2"/><rect x="912.60" y="190.0" width="1.7" height="93.0"/><rect x="915.98" y="245.2" width="1.7" height="123.0"/><rect x="919.35" y="314.7" width="1.7" height="65.1"/><rect x="922.73" y="346.5" width="1.7" height="8.7"/></g>
<rect x="54.30" y="571.4" width="3.8" height="5.3" fill="#ff0000"/><rect x="57.68" y="575.5" width="3.8" height="1.6" fill="#dcdcdc"/><rect x="61.05" y="576.3" width="3.8" height="26.4" fill="#ff0000"/><rect x="64.42" y="593.9" width="3.8" height="8.8" fill="#1fbe1f"/><rect x="67.80" y="591.3" width="3.8" height="2.6" fill="#1fbe1f"/><rect x="71.17" y="591.3" width="3.8" height="1.7" fill="#ff0000"/><rect x="74.55" y="593.0" width="3.8" height="10.6" fill="#ff0000"/><rect x="77.92" y="603.6" width="3.8" height="25.2" fill="#ff0000"/><rect x="81.30" y="628.8" width="3.8" height="2.5" fill="#ff0000"/><rect x="84.67" y="627.7" width="3.8" height="3.6" fill="#1fbe1f"/><rect x="88.05" y="627.7" width="3.8" height="9.9" fill="#ff0000"/><rect x="91.42" y="626.5" width="3.8" height="11.1" fill="#1fbe1f"/><rect x="94.80" y="614.2" width="3.8" height="12.3" fill="#1fbe1f"/><rect x="98.17" y="614.2" width="3.8" height="3.5" fill="#ff0000"/><rect x="101.55" y="613.3" width="3.8" height="4.4" fill="#1fbe1f"/><rect x="104.92" y="611.6" width="3.8" height="1.6" fill="#dcdcdc"/><rect x="108.30" y="602.7" width="3.8" height="9.7" fill="#1fbe1f"/><rect x="111.67" y="602.7" width="3.8" height="5.0" fill="#ff0000"/><rect x="115.05" y="587.8" width="3.8" height="19.9" fill="#1fbe1f"/><rect x="118.42" y="587.8" width="3.8" height="14.9" fill="#ff0000"/><rect x="121.80" y="602.7" width="3.8" height="12.3" fill="#ff0000"/><rect x="125.17" y="613.3" width="3.8" height="1.7" fill="#1fbe1f"/><rect x="128.55" y="613.3" width="3.8" height="3.2" fill="#ff0000"/><rect x="131.92" y="604.2" width="3.8" height="12.3" fill="#1fbe1f"/><rect x="135.30" y="601.9" width="3.8" height="1.6" fill="#1fbe1f"/><rect x="138.67" y="602.7" width="3.8" height="11.0" fill="#ff0000"/><rect x="142.05" y="610.1" width="3.8" height="3.6" fill="#1fbe1f"/><rect x="145.42" y="609.3" width="3.8" height="1.6" fill="#dcdcdc"/><rect x="148.80" y="594.8" width="3.8" height="15.9" fill="#1fbe1f"/><rect x="152.17" y="592.5" width="3.8" height="2.3" fill="#1fbe1f"/><rect x="155.55" y="592.5" width="3.8" height="13.8" fill="#ff0000"/><rect x="158.92" y="601.0" width="3.8" height="5.3" fill="#1fbe1f"/><rect x="162.30" y="594.8" width="3.8" height="6.2" fill="#1fbe1f"/><rect x="165.67" y="572.8" width="3.8" height="22.0" fill="#1fbe1f"/><rect x="169.05" y="561.4" width="3.8" height="11.4" fill="#1fbe1f"/><rect x="172.42" y="555.2" width="3.8" height="6.2" fill="#1fbe1f"/><rect x="175.80" y="555.2" width="3.8" height="3.9" fill="#ff0000"/><rect x="179.17" y="559.1" width="3.8" height="4.9" fill="#ff0000"/><rect x="182.55" y="564.0" width="3.8" height="6.2" fill="#ff0000"/><rect x="185.92" y="557.9" width="3.8" height="12.3" fill="#1fbe1f"/><rect x="189.30" y="557.1" width="3.8" height="1.6" fill="#dcdcdc"/><rect x="192.67" y="558.4" width="3.8" height="10.5" fill="#ff0000"/><rect x="196.05" y="568.1" width="3.8" height="1.6" fill="#dcdcdc"/><rect x="199.42" y="556.6" width="3.8" height="12.3" fill="#1fbe1f"/><rect x="202.80" y="554.4" width="3.8" height="1.6" fill="#1fbe1f"/><rect x="206.17" y="545.0" width="3.8" height="10.2" fill="#1fbe1f"/><rect x="209.55" y="529.2" width="3.8" height="15.8" fill="#1fbe1f"/><rect x="212.92" y="518.0" width="3.8" height="11.2" fill="#1fbe1f"/><rect x="216.30" y="445.1" width="3.8" height="72.9" fill="#1fbe1f"/><rect x="219.67" y="445.1" width="3.8" height="24.5" fill="#ff0000"/><rect x="223.05" y="466.8" width="3.8" height="2.8" fill="#1fbe1f"/><rect x="226.42" y="439.4" width="3.8" height="27.4" fill="#1fbe1f"/><rect x="229.80" y="396.0" width="3.8" height="43.4" fill="#1fbe1f"/><rect x="233.17" y="396.0" width="3.8" height="12.3" fill="#ff0000"/><rect x="236.55" y="408.3" width="3.8" height="19.8" fill="#ff0000"/><rect x="239.92" y="428.1" width="3.8" height="18.9" fill="#ff0000"/><rect x="243.30" y="447.0" width="3.8" height="7.5" fill="#ff0000"/><rect x="246.67" y="436.6" width="3.8" height="17.9" fill="#1fbe1f"/><rect x="250.05" y="434.9" width="3.8" height="1.6" fill="#dcdcdc"/><rect x="253.42" y="430.0" width="3.8" height="5.7" fill="#1fbe1f"/><rect x="256.80" y="421.5" width="3.8" height="8.5" fill="#1fbe1f"/><rect x="260.18" y="421.5" width="3.8" height="11.3" fill="#ff0000"/><rect x="263.55" y="420.6" width="3.8" height="12.2" fill="#1fbe1f"/><rect x="266.93" y="420.6" width="3.8" height="6.6" fill="#ff0000"/><rect x="270.30" y="396.0" width="3.8" height="31.2" fill="#1fbe1f"/><rect x="273.68" y="396.0" width="3.8" height="6.6" fill="#ff0000"/><rect x="277.05" y="358.7" width="3.8" height="43.9" fill="#1fbe1f"/><rect x="280.43" y="358.7" width="3.8" height="13.8" fill="#ff0000"/><rect x="283.80" y="372.5" width="3.8" height="10.3" fill="#ff0000"/><rect x="287.18" y="382.8" width="3.8" height="32.1" fill="#ff0000"/><rect x="290.55" y="397.0" width="3.8" height="17.9" fill="#1fbe1f"/><rect x="293.93" y="369.6" width="3.8" height="27.4" fill="#1fbe1f"/><rect x="297.30" y="357.9" width="3.8" height="11.7" fill="#1fbe1f"/><rect x="300.68" y="357.9" width="3.8" height="10.8" fill="#ff0000"/><rect x="304.05" y="368.7" width="3.8" height="10.7" fill="#ff0000"/><rect x="307.43" y="359.8" width="3.8" height="19.6" fill="#1fbe1f"/><rect x="310.80" y="359.8" width="3.8" height="5.1" fill="#ff0000"/><rect x="314.18" y="364.9" width="3.8" height="16.0" fill="#ff0000"/><rect x="317.55" y="380.9" width="3.8" height="4.8" fill="#ff0000"/><rect x="320.93" y="385.7" width="3.8" height="33.0" fill="#ff0000"/><rect x="324.30" y="418.7" width="3.8" height="4.7" fill="#ff0000"/><rect x="327.68" y="421.5" width="3.8" height="1.9" fill="#1fbe1f"/><rect x="331.05" y="419.8" width="3.8" height="1.6" fill="#dcdcdc"/><rect x="334.43" y="418.8" width="3.8" height="1.6" fill="#dcdcdc"/><rect x="337.80" y="411.1" width="3.8" height="8.5" fill="#1fbe1f"/><rect x="341.18" y="410.3" width="3.8" height="1.6" fill="#dcdcdc"/><rect x="344.55" y="380.1" width="3.8" height="31.0" fill="#1fbe1f"/><rect x="347.93" y="380.1" width="3.8" height="17.7" fill="#ff0000"/><rect x="351.30" y="389.2" width="3.8" height="8.6" fill="#1fbe1f"/><rect x="354.68" y="387.4" width="3.8" height="1.6" fill="#dcdcdc"/><rect x="358.05" y="384.1" width="3.8" height="4.1" fill="#1fbe1f"/><rect x="361.43" y="384.1" width="3.8" height="16.1" fill="#ff0000"/><rect x="364.80" y="400.2" width="3.8" height="58.4" fill="#ff0000"/><rect x="368.18" y="441.5" width="3.8" height="17.1" fill="#1fbe1f"/><rect x="371.55" y="439.5" width="3.8" height="2.0" fill="#1fbe1f"/><rect x="374.93" y="439.5" width="3.8" height="7.0" fill="#ff0000"/><rect x="378.30" y="446.5" width="3.8" height="13.1" fill="#ff0000"/><rect x="381.68" y="438.0" width="3.8" height="21.6" fill="#1fbe1f"/><rect x="385.05" y="420.4" width="3.8" height="17.6" fill="#1fbe1f"/><rect x="388.43" y="420.4" width="3.8" height="12.0" fill="#ff0000"/><rect x="391.80" y="432.4" width="3.8" height="26.2" fill="#ff0000"/><rect x="395.18" y="437.5" width="3.8" height="21.1" fill="#1fbe1f"/><rect x="398.55" y="437.5" width="3.8" height="9.4" fill="#ff0000"/><rect x="401.93" y="446.9" width="3.8" height="15.7" fill="#ff0000"/><rect x="405.30" y="455.6" width="3.8" height="7.0" fill="#1fbe1f"/><rect x="408.68" y="453.4" width="3.8" height="1.6" fill="#1fbe1f"/><rect x="412.05" y="454.2" width="3.8" height="28.1" fill="#ff0000"/><rect x="415.43" y="481.3" width="3.8" height="1.6" fill="#dcdcdc"/><rect x="418.80" y="481.3" width="3.8" height="1.6" fill="#dcdcdc"/><rect x="422.18" y="482.5" width="3.8" height="27.8" fill="#ff0000"/><rect x="425.55" y="510.3" width="3.8" height="7.4" fill="#ff0000"/><rect x="428.93" y="510.3" width="3.8" height="7.4" fill="#1fbe1f"/><rect x="432.30" y="510.3" width="3.8" height="11.4" fill="#ff0000"/><rect x="435.68" y="521.7" width="3.8" height="11.1" fill="#ff0000"/><rect x="439.05" y="516.7" width="3.8" height="16.1" fill="#1fbe1f"/><rect x="442.43" y="497.6" width="3.8" height="19.1" fill="#1fbe1f"/><rect x="445.80" y="497.6" width="3.8" height="6.0" fill="#ff0000"/><rect x="449.18" y="502.8" width="3.8" height="1.6" fill="#dcdcdc"/><rect x="452.55" y="504.6" width="3.8" height="7.7" fill="#ff0000"/><rect x="455.93" y="512.3" width="3.8" height="18.5" fill="#ff0000"/><rect x="459.30" y="530.8" width="3.8" height="3.0" fill="#ff0000"/><rect x="462.68" y="491.5" width="3.8" height="42.3" fill="#1fbe1f"/><rect x="466.05" y="476.1" width="3.8" height="15.4" fill="#1fbe1f"/><rect x="469.43" y="476.1" width="3.8" height="10.0" fill="#ff0000"/><rect x="472.80" y="468.8" width="3.8" height="17.3" fill="#1fbe1f"/><rect x="476.18" y="468.8" width="3.8" height="19.7" fill="#ff0000"/><rect x="479.55" y="488.5" width="3.8" height="14.1" fill="#ff0000"/><rect x="482.93" y="498.6" width="3.8" height="4.0" fill="#1fbe1f"/><rect x="486.30" y="480.5" width="3.8" height="18.1" fill="#1fbe1f"/><rect x="489.68" y="469.4" width="3.8" height="11.1" fill="#1fbe1f"/><rect x="493.05" y="457.9" width="3.8" height="11.5" fill="#1fbe1f"/><rect x="496.43" y="452.7" width="3.8" height="5.2" fill="#1fbe1f"/><rect x="499.80" y="452.7" width="3.8" height="24.8" fill="#ff0000"/><rect x="503.18" y="469.4" width="3.8" height="8.1" fill="#1fbe1f"/><rect x="506.55" y="468.6" width="3.8" height="1.6" fill="#dcdcdc"/><rect x="509.93" y="464.0" width="3.8" height="6.4" fill="#1fbe1f"/><rect x="513.30" y="451.3" width="3.8" height="12.7" fill="#1fbe1f"/><rect x="516.68" y="451.3" width="3.8" height="33.6" fill="#ff0000"/><rect x="520.05" y="475.5" width="3.8" height="9.4" fill="#1fbe1f"/><rect x="523.43" y="475.5" width="3.8" height="5.0" fill="#ff0000"/><rect x="526.80" y="480.5" width="3.8" height="8.0" fill="#ff0000"/><rect x="530.18" y="469.4" width="3.8" height="19.1" fill="#1fbe1f"/><rect x="533.55" y="436.2" width="3.8" height="33.2" fill="#1fbe1f"/><rect x="536.93" y="433.2" width="3.8" height="3.0" fill="#1fbe1f"/><rect x="540.30" y="430.2" width="3.8" height="3.0" fill="#1fbe1f"/><rect x="543.68" y="430.2" width="3.8" height="4.0" fill="#ff0000"/><rect x="547.05" y="433.0" width="3.8" height="1.6" fill="#dcdcdc"/><rect x="550.43" y="433.8" width="3.8" height="2.4" fill="#ff0000"/><rect x="553.80" y="436.2" width="3.8" height="5.0" fill="#ff0000"/><rect x="557.18" y="407.8" width="3.8" height="33.4" fill="#1fbe1f"/><rect x="560.55" y="407.0" width="3.8" height="1.6" fill="#dcdcdc"/><rect x="563.93" y="392.7" width="3.8" height="16.1" fill="#1fbe1f"/><rect x="567.30" y="385.1" width="3.8" height="7.6" fill="#1fbe1f"/><rect x="570.68" y="385.1" width="3.8" height="3.6" fill="#ff0000"/><rect x="574.05" y="388.7" width="3.8" height="9.1" fill="#ff0000"/><rect x="577.43" y="384.7" width="3.8" height="13.1" fill="#1fbe1f"/><rect x="580.80" y="384.7" width="3.8" height="13.1" fill="#ff0000"/><rect x="584.18" y="378.7" width="3.8" height="19.1" fill="#1fbe1f"/><rect x="587.55" y="362.2" width="3.8" height="16.5" fill="#1fbe1f"/><rect x="590.93" y="344.4" width="3.8" height="17.8" fill="#1fbe1f"/><rect x="594.30" y="344.4" width="3.8" height="10.1" fill="#ff0000"/><rect x="597.68" y="354.5" width="3.8" height="20.1" fill="#ff0000"/><rect x="601.05" y="346.7" width="3.8" height="27.9" fill="#1fbe1f"/><rect x="604.43" y="322.6" width="3.8" height="24.1" fill="#1fbe1f"/><rect x="607.80" y="318.6" width="3.8" height="4.0" fill="#1fbe1f"/><rect x="611.18" y="297.8" width="3.8" height="20.8" fill="#1fbe1f"/><rect x="614.55" y="289.4" width="3.8" height="8.4" fill="#1fbe1f"/><rect x="617.93" y="284.4" width="3.8" height="5.0" fill="#1fbe1f"/><rect x="621.30" y="250.2" width="3.8" height="34.2" fill="#1fbe1f"/><rect x="624.68" y="250.2" width="3.8" height="24.7" fill="#ff0000"/><rect x="628.05" y="269.3" width="3.8" height="5.6" fill="#1fbe1f"/><rect x="631.43" y="269.3" width="3.8" height="10.0" fill="#ff0000"/><rect x="634.80" y="279.3" width="3.8" height="4.1" fill="#ff0000"/><rect x="638.18" y="283.4" width="3.8" height="46.2" fill="#ff0000"/><rect x="641.55" y="328.8" width="3.8" height="1.6" fill="#dcdcdc"/><rect x="644.93" y="303.9" width="3.8" height="25.7" fill="#1fbe1f"/><rect x="648.30" y="276.9" width="3.8" height="27.0" fill="#1fbe1f"/><rect x="651.68" y="272.3" width="3.8" height="4.6" fill="#1fbe1f"/><rect x="655.05" y="254.8" width="3.8" height="17.5" fill="#1fbe1f"/><rect x="658.43" y="254.8" width="3.8" height="19.5" fill="#ff0000"/><rect x="661.80" y="267.7" width="3.8" height="6.6" fill="#1fbe1f"/><rect x="665.18" y="260.2" width="3.8" height="7.5" fill="#1fbe1f"/><rect x="668.55" y="260.2" width="3.8" height="12.1" fill="#ff0000"/><rect x="671.93" y="272.3" width="3.8" height="21.1" fill="#ff0000"/><rect x="675.30" y="293.4" width="3.8" height="37.8" fill="#ff0000"/><rect x="678.68" y="300.5" width="3.8" height="30.7" fill="#1fbe1f"/><rect x="682.05" y="300.5" width="3.8" height="46.2" fill="#ff0000"/><rect x="685.43" y="332.6" width="3.8" height="14.1" fill="#1fbe1f"/><rect x="688.80" y="332.6" width="3.8" height="2.1" fill="#ff0000"/><rect x="692.18" y="309.1" width="3.8" height="25.6" fill="#1fbe1f"/><rect x="695.55" y="297.8" width="3.8" height="11.3" fill="#1fbe1f"/><rect x="698.93" y="294.4" width="3.8" height="3.4" fill="#1fbe1f"/><rect x="702.30" y="294.4" width="3.8" height="5.4" fill="#ff0000"/><rect x="705.68" y="299.8" width="3.8" height="24.8" fill="#ff0000"/><rect x="709.05" y="316.5" width="3.8" height="8.1" fill="#1fbe1f"/><rect x="712.43" y="316.5" width="3.8" height="10.7" fill="#ff0000"/><rect x="715.80" y="311.1" width="3.8" height="16.1" fill="#1fbe1f"/><rect x="719.18" y="311.1" width="3.8" height="7.5" fill="#ff0000"/><rect x="722.55" y="318.6" width="3.8" height="18.7" fill="#ff0000"/><rect x="725.93" y="336.5" width="3.8" height="1.6" fill="#dcdcdc"/><rect x="729.30" y="337.7" width="3.8" height="1.6" fill="#ff0000"/><rect x="732.68" y="339.3" width="3.8" height="25.5" fill="#ff0000"/><rect x="736.05" y="349.3" width="3.8" height="15.5" fill="#1fbe1f"/><rect x="739.43" y="339.3" width="3.8" height="10.0" fill="#1fbe1f"/><rect x="742.80" y="338.5" width="3.8" height="1.6" fill="#dcdcdc"/><rect x="746.18" y="334.1" width="3.8" height="5.2" fill="#1fbe1f"/><rect x="749.55" y="334.1" width="3.8" height="14.7" fill="#ff0000"/><rect x="752.93" y="337.7" width="3.8" height="11.1" fill="#1fbe1f"/><rect x="756.30" y="337.7" width="3.8" height="6.1" fill="#ff0000"/><rect x="759.68" y="329.3" width="3.8" height="14.5" fill="#1fbe1f"/><rect x="763.05" y="282.4" width="3.8" height="46.9" fill="#1fbe1f"/><rect x="766.43" y="271.3" width="3.8" height="11.1" fill="#1fbe1f"/><rect x="769.80" y="261.3" width="3.8" height="10.0" fill="#1fbe1f"/><rect x="773.18" y="261.3" width="3.8" height="23.7" fill="#ff0000"/><rect x="776.55" y="273.4" width="3.8" height="11.6" fill="#1fbe1f"/><rect x="779.93" y="272.1" width="3.8" height="1.6" fill="#dcdcdc"/><rect x="783.30" y="250.2" width="3.8" height="22.7" fill="#1fbe1f"/><rect x="786.68" y="250.2" width="3.8" height="4.6" fill="#ff0000"/><rect x="790.05" y="240.2" width="3.8" height="14.6" fill="#1fbe1f"/><rect x="793.43" y="240.2" width="3.8" height="24.7" fill="#ff0000"/><rect x="796.80" y="256.9" width="3.8" height="8.0" fill="#1fbe1f"/><rect x="800.18" y="256.9" width="3.8" height="16.5" fill="#ff0000"/><rect x="803.55" y="263.3" width="3.8" height="10.1" fill="#1fbe1f"/><rect x="806.93" y="260.3" width="3.8" height="3.0" fill="#1fbe1f"/><rect x="810.30" y="260.3" width="3.8" height="14.7" fill="#ff0000"/><rect x="813.68" y="273.6" width="3.8" height="1.6" fill="#dcdcdc"/><rect x="817.05" y="273.6" width="3.8" height="1.6" fill="#dcdcdc"/><rect x="820.43" y="251.5" width="3.8" height="22.9" fill="#1fbe1f"/><rect x="823.80" y="231.8" width="3.8" height="19.7" fill="#1fbe1f"/><rect x="827.18" y="231.8" width="3.8" height="19.1" fill="#ff0000"/><rect x="830.55" y="243.9" width="3.8" height="7.0" fill="#1fbe1f"/><rect x="833.93" y="241.9" width="3.8" height="2.0" fill="#1fbe1f"/><rect x="837.30" y="222.7" width="3.8" height="19.2" fill="#1fbe1f"/><rect x="840.68" y="213.7" width="3.8" height="9.0" fill="#1fbe1f"/><rect x="844.05" y="167.4" width="3.8" height="46.3" fill="#1fbe1f"/><rect x="847.43" y="167.4" width="3.8" height="11.5" fill="#ff0000"/><rect x="850.80" y="171.4" width="3.8" height="7.5" fill="#1fbe1f"/><rect x="854.18" y="158.4" width="3.8" height="13.0" fill="#1fbe1f"/><rect x="857.55" y="147.3" width="3.8" height="11.1" fill="#1fbe1f"/><rect x="860.93" y="147.3" width="3.8" height="5.4" fill="#ff0000"/><rect x="864.30" y="152.7" width="3.8" height="19.7" fill="#ff0000"/><rect x="867.68" y="151.9" width="3.8" height="20.5" fill="#1fbe1f"/><rect x="871.05" y="141.2" width="3.8" height="10.7" fill="#1fbe1f"/><rect x="874.43" y="141.2" width="3.8" height="11.5" fill="#ff0000"/><rect x="877.80" y="152.7" width="3.8" height="30.8" fill="#ff0000"/><rect x="881.18" y="153.3" width="3.8" height="30.2" fill="#1fbe1f"/><rect x="884.55" y="146.3" width="3.8" height="7.0" fill="#1fbe1f"/><rect x="887.93" y="146.3" width="3.8" height="33.2" fill="#ff0000"/><rect x="891.30" y="166.4" width="3.8" height="13.1" fill="#1fbe1f"/><rect x="894.68" y="166.4" width="3.8" height="13.1" fill="#ff0000"/><rect x="898.05" y="172.8" width="3.8" height="6.7" fill="#1fbe1f"/><rect x="901.43" y="172.8" width="3.8" height="9.3" fill="#ff0000"/><rect x="904.80" y="182.1" width="3.8" height="18.1" fill="#ff0000"/><rect x="908.18" y="192.6" width="3.8" height="7.6" fill="#1fbe1f"/><rect x="911.55" y="192.6" width="3.8" height="89.7" fill="#ff0000"/><rect x="914.93" y="282.3" width="3.8" height="59.9" fill="#ff0000"/><rect x="918.30" y="342.2" width="3.8" height="5.8" fill="#ff0000"/><rect x="921.68" y="348.0" width="3.8" height="2.8" fill="#ff0000"/>
<line x1="52.5" y1="350.6" x2="1725.5" y2="350.6" stroke="#d40000" stroke-width="1.3" stroke-dasharray="1.7 1.3"/>
<line x1="1141" y1="0" x2="1141" y2="741.5" stroke="#9a9a9a" stroke-width="1.6" stroke-dasharray="6.6 6.6"/>
<line x1="52.5" y1="667" x2="1725.5" y2="667" stroke="#9a9a9a" stroke-width="1.6" stroke-dasharray="6.6 6.6"/>
</g>
<rect x="0" y="0" width="51.75" height="742.25" fill="#000"/>
<line x1="51.9" x2="51.9" y1="0" y2="742.25" stroke="#858585" stroke-width="1.7"/>
<line x1="1725.9" x2="1725.9" y1="0" y2="742.25" stroke="#787878" stroke-width="1.7"/>
<line x1="51.75" x2="1726.25" y1="741.5" y2="741.5" stroke="#6c6c6c" stroke-width="2"/>
<rect x="1782" y="0" width="3" height="772" fill="#262a37"/>
<text x="0.4" y="694.4" font-size="14.0" fill="#d6d6d6" stroke="#d6d6d6" stroke-width="0.25" text-anchor="start" >16.000</text>
<text x="1734" y="694.4" font-size="14.0" fill="#d6d6d6" stroke="#d6d6d6" stroke-width="0.25" text-anchor="start" >16.000</text>
<line x1="1725.5" x2="1730.5" y1="689.5" y2="689.5" stroke="#6c6c6c" stroke-width="1.3"/>
<line x1="48.5" x2="52.5" y1="689.5" y2="689.5" stroke="#6c6c6c" stroke-width="1.3"/>
<text x="0.4" y="632.6" font-size="14.0" fill="#d6d6d6" stroke="#d6d6d6" stroke-width="0.25" text-anchor="start" >17.000</text>
<text x="1734" y="632.6" font-size="14.0" fill="#d6d6d6" stroke="#d6d6d6" stroke-width="0.25" text-anchor="start" >17.000</text>
<line x1="1725.5" x2="1730.5" y1="627.7" y2="627.7" stroke="#6c6c6c" stroke-width="1.3"/>
<line x1="48.5" x2="52.5" y1="627.7" y2="627.7" stroke="#6c6c6c" stroke-width="1.3"/>
<text x="0.4" y="570.8" font-size="14.0" fill="#d6d6d6" stroke="#d6d6d6" stroke-width="0.25" text-anchor="start" >18.000</text>
<text x="1734" y="570.8" font-size="14.0" fill="#d6d6d6" stroke="#d6d6d6" stroke-width="0.25" text-anchor="start" >18.000</text>
<line x1="1725.5" x2="1730.5" y1="565.9" y2="565.9" stroke="#6c6c6c" stroke-width="1.3"/>
<line x1="48.5" x2="52.5" y1="565.9" y2="565.9" stroke="#6c6c6c" stroke-width="1.3"/>
<text x="0.4" y="508.9" font-size="14.0" fill="#d6d6d6" stroke="#d6d6d6" stroke-width="0.25" text-anchor="start" >19.000</text>
<text x="1734" y="508.9" font-size="14.0" fill="#d6d6d6" stroke="#d6d6d6" stroke-width="0.25" text-anchor="start" >19.000</text>
<line x1="1725.5" x2="1730.5" y1="504.0" y2="504.0" stroke="#6c6c6c" stroke-width="1.3"/>
<line x1="48.5" x2="52.5" y1="504.0" y2="504.0" stroke="#6c6c6c" stroke-width="1.3"/>
<text x="0.4" y="447.1" font-size="14.0" fill="#d6d6d6" stroke="#d6d6d6" stroke-width="0.25" text-anchor="start" >20.000</text>
<text x="1734" y="447.1" font-size="14.0" fill="#d6d6d6" stroke="#d6d6d6" stroke-width="0.25" text-anchor="start" >20.000</text>
<line x1="1725.5" x2="1730.5" y1="442.2" y2="442.2" stroke="#6c6c6c" stroke-width="1.3"/>
<line x1="48.5" x2="52.5" y1="442.2" y2="442.2" stroke="#6c6c6c" stroke-width="1.3"/>
<text x="0.4" y="385.3" font-size="14.0" fill="#d6d6d6" stroke="#d6d6d6" stroke-width="0.25" text-anchor="start" >21.000</text>
<text x="1734" y="385.3" font-size="14.0" fill="#d6d6d6" stroke="#d6d6d6" stroke-width="0.25" text-anchor="start" >21.000</text>
<line x1="1725.5" x2="1730.5" y1="380.4" y2="380.4" stroke="#6c6c6c" stroke-width="1.3"/>
<line x1="48.5" x2="52.5" y1="380.4" y2="380.4" stroke="#6c6c6c" stroke-width="1.3"/>
<text x="0.4" y="323.4" font-size="14.0" fill="#d6d6d6" stroke="#d6d6d6" stroke-width="0.25" text-anchor="start" >22.000</text>
<text x="1734" y="323.4" font-size="14.0" fill="#d6d6d6" stroke="#d6d6d6" stroke-width="0.25" text-anchor="start" >22.000</text>
<line x1="1725.5" x2="1730.5" y1="318.5" y2="318.5" stroke="#6c6c6c" stroke-width="1.3"/>
<line x1="48.5" x2="52.5" y1="318.5" y2="318.5" stroke="#6c6c6c" stroke-width="1.3"/>
<text x="0.4" y="261.6" font-size="14.0" fill="#d6d6d6" stroke="#d6d6d6" stroke-width="0.25" text-anchor="start" >23.000</text>
<text x="1734" y="261.6" font-size="14.0" fill="#d6d6d6" stroke="#d6d6d6" stroke-width="0.25" text-anchor="start" >23.000</text>
<line x1="1725.5" x2="1730.5" y1="256.7" y2="256.7" stroke="#6c6c6c" stroke-width="1.3"/>
<line x1="48.5" x2="52.5" y1="256.7" y2="256.7" stroke="#6c6c6c" stroke-width="1.3"/>
<text x="0.4" y="199.8" font-size="14.0" fill="#d6d6d6" stroke="#d6d6d6" stroke-width="0.25" text-anchor="start" >24.000</text>
<text x="1734" y="199.8" font-size="14.0" fill="#d6d6d6" stroke="#d6d6d6" stroke-width="0.25" text-anchor="start" >24.000</text>
<line x1="1725.5" x2="1730.5" y1="194.9" y2="194.9" stroke="#6c6c6c" stroke-width="1.3"/>
<line x1="48.5" x2="52.5" y1="194.9" y2="194.9" stroke="#6c6c6c" stroke-width="1.3"/>
<text x="0.4" y="138.0" font-size="14.0" fill="#d6d6d6" stroke="#d6d6d6" stroke-width="0.25" text-anchor="start" >25.000</text>
<text x="1734" y="138.0" font-size="14.0" fill="#d6d6d6" stroke="#d6d6d6" stroke-width="0.25" text-anchor="start" >25.000</text>
<line x1="1725.5" x2="1730.5" y1="133.1" y2="133.1" stroke="#6c6c6c" stroke-width="1.3"/>
<line x1="48.5" x2="52.5" y1="133.1" y2="133.1" stroke="#6c6c6c" stroke-width="1.3"/>
<text x="0.4" y="76.1" font-size="14.0" fill="#d6d6d6" stroke="#d6d6d6" stroke-width="0.25" text-anchor="start" >26.000</text>
<text x="1734" y="76.1" font-size="14.0" fill="#d6d6d6" stroke="#d6d6d6" stroke-width="0.25" text-anchor="start" >26.000</text>
<line x1="1725.5" x2="1730.5" y1="71.2" y2="71.2" stroke="#6c6c6c" stroke-width="1.3"/>
<line x1="48.5" x2="52.5" y1="71.2" y2="71.2" stroke="#6c6c6c" stroke-width="1.3"/>
<text x="0.4" y="14.3" font-size="14.0" fill="#d6d6d6" stroke="#d6d6d6" stroke-width="0.25" text-anchor="start" >27.000</text>
<text x="1734" y="14.3" font-size="14.0" fill="#d6d6d6" stroke="#d6d6d6" stroke-width="0.25" text-anchor="start" >27.000</text>
<line x1="1725.5" x2="1730.5" y1="9.4" y2="9.4" stroke="#6c6c6c" stroke-width="1.3"/>
<line x1="48.5" x2="52.5" y1="9.4" y2="9.4" stroke="#6c6c6c" stroke-width="1.3"/>
<rect x="0" y="221.8" width="51.7" height="21.5" fill="#9a9a9a"/>
<text x="0.6" y="237.1" font-size="14.0" fill="#ffffff" stroke="#ffffff" stroke-width="0.25" text-anchor="start" >23.391</text>
<line x1="48.5" x2="52.0" y1="232.5" y2="232.5" stroke="#ffffff" stroke-width="1.2"/>
<rect x="1725.1" y="221.8" width="57" height="21.5" fill="#9a9a9a"/>
<text x="1734.2" y="237.1" font-size="14.0" fill="#ffffff" stroke="#ffffff" stroke-width="0.25" text-anchor="start" >23.391</text>
<line x1="1726.25" x2="1730.5" y1="232.5" y2="232.5" stroke="#ffffff" stroke-width="1.2"/>
<rect x="0" y="242.9" width="51.7" height="21.5" fill="#ffff00"/>
<text x="0.6" y="258.3" font-size="14.0" fill="#111111" stroke="#111111" stroke-width="0.25" text-anchor="start" >23.378</text>
<line x1="48.5" x2="52.0" y1="253.7" y2="253.7" stroke="#111111" stroke-width="1.2"/>
<rect x="1725.1" y="242.9" width="57" height="21.5" fill="#ffff00"/>
<text x="1734.2" y="258.3" font-size="14.0" fill="#111111" stroke="#111111" stroke-width="0.25" text-anchor="start" >23.378</text>
<line x1="1726.25" x2="1730.5" y1="253.7" y2="253.7" stroke="#111111" stroke-width="1.2"/>
<rect x="0" y="340.0" width="51.7" height="22" fill="#ff0000"/>
<text x="0.6" y="355.6" font-size="14.0" fill="#ffffff" stroke="#ffffff" stroke-width="0.12" text-anchor="start" font-weight="bold" textLength="40.8" lengthAdjust="spacingAndGlyphs">21.470</text>
<line x1="48.5" x2="52.0" y1="351.0" y2="351.0" stroke="#ffffff" stroke-width="1.2"/>
<rect x="1725.1" y="340.0" width="57" height="22" fill="#ff0000"/>
<text x="1734.2" y="355.6" font-size="14.0" fill="#ffffff" stroke="#ffffff" stroke-width="0.12" text-anchor="start" font-weight="bold" textLength="40.8" lengthAdjust="spacingAndGlyphs">21.470</text>
<line x1="1726.25" x2="1730.5" y1="351.0" y2="351.0" stroke="#ffffff" stroke-width="1.2"/>
<rect x="0" y="362" width="41" height="21.6" fill="#ff0000"/>
<text x="1.2" y="377.6" font-size="14.0" fill="#fff" stroke="#fff" stroke-width="0.12" text-anchor="start" font-weight="bold" textLength="34.8" lengthAdjust="spacingAndGlyphs">48:46</text>
<rect x="1737" y="362" width="44.5" height="21.6" fill="#ff0000"/>
<text x="1740.3" y="377.6" font-size="14.0" fill="#fff" stroke="#fff" stroke-width="0.12" text-anchor="start" font-weight="bold" textLength="34.8" lengthAdjust="spacingAndGlyphs">48:46</text>
<rect x="0" y="525.0" width="51.7" height="21.5" fill="#9c0000"/>
<text x="0.6" y="540.4" font-size="14.0" fill="#ffffff" stroke="#ffffff" stroke-width="0.12" text-anchor="start" font-weight="bold" textLength="40.8" lengthAdjust="spacingAndGlyphs">18.491</text>
<line x1="48.5" x2="52.0" y1="535.8" y2="535.8" stroke="#ffffff" stroke-width="1.2"/>
<rect x="1725.1" y="525.0" width="57" height="21.5" fill="#9c0000"/>
<text x="1734.2" y="540.4" font-size="14.0" fill="#ffffff" stroke="#ffffff" stroke-width="0.12" text-anchor="start" font-weight="bold" textLength="40.8" lengthAdjust="spacingAndGlyphs">18.491</text>
<line x1="1726.25" x2="1730.5" y1="535.8" y2="535.8" stroke="#ffffff" stroke-width="1.2"/>
<rect x="0" y="550.0" width="51.7" height="21.5" fill="#ffff00"/>
<text x="0.6" y="565.4" font-size="14.0" fill="#111111" stroke="#111111" stroke-width="0.25" text-anchor="start" >18.090</text>
<line x1="48.5" x2="52.0" y1="560.8" y2="560.8" stroke="#111111" stroke-width="1.2"/>
<rect x="1725.1" y="550.0" width="57" height="21.5" fill="#ffff00"/>
<text x="1734.2" y="565.4" font-size="14.0" fill="#111111" stroke="#111111" stroke-width="0.25" text-anchor="start" >18.090</text>
<line x1="1726.25" x2="1730.5" y1="560.8" y2="560.8" stroke="#111111" stroke-width="1.2"/>
<rect x="0" y="656.2" width="51.7" height="21.5" fill="#4a505c"/>
<text x="0.6" y="671.6" font-size="14.0" fill="#ffffff" stroke="#ffffff" stroke-width="0.12" text-anchor="start" font-weight="bold" textLength="40.8" lengthAdjust="spacingAndGlyphs">16.364</text>
<line x1="48.5" x2="52.0" y1="667.0" y2="667.0" stroke="#ffffff" stroke-width="1.2"/>
<rect x="1725.1" y="656.2" width="57" height="21.5" fill="#4a505c"/>
<text x="1734.2" y="671.6" font-size="14.0" fill="#ffffff" stroke="#ffffff" stroke-width="0.12" text-anchor="start" font-weight="bold" textLength="40.8" lengthAdjust="spacingAndGlyphs">16.364</text>
<line x1="1726.25" x2="1730.5" y1="667.0" y2="667.0" stroke="#ffffff" stroke-width="1.2"/>
<rect x="1705" y="656.3" width="19.5" height="21.5" fill="#555b68"/>
<path d="M1709.5 667h11M1715 661.5v11" stroke="#e8e8e8" stroke-width="1.3" fill="none"/>
<rect x="0" y="742.25" width="1785" height="29.75" fill="#000"/>
<text x="144.6" y="764.3" font-size="14.0" fill="#e0e0e0" stroke="#e0e0e0" stroke-width="0.25" text-anchor="middle" >27</text>
<text x="306.6" y="764.3" font-size="14.0" fill="#e0e0e0" stroke="#e0e0e0" stroke-width="0.25" text-anchor="middle" >29</text>
<text x="428.3" y="764.3" font-size="14.0" fill="#e0e0e0" stroke="#e0e0e0" stroke-width="0.25" text-anchor="middle" >12:00</text>
<text x="549.8" y="764.3" font-size="14.0" fill="#e0e0e0" stroke="#e0e0e0" stroke-width="0.12" text-anchor="middle" font-weight="bold" >Сен</text>
<text x="711.8" y="764.3" font-size="14.0" fill="#e0e0e0" stroke="#e0e0e0" stroke-width="0.25" text-anchor="middle" >3</text>
<text x="873.8" y="764.3" font-size="14.0" fill="#e0e0e0" stroke="#e0e0e0" stroke-width="0.25" text-anchor="middle" >5</text>
<text x="1035.8" y="764.3" font-size="14.0" fill="#e0e0e0" stroke="#e0e0e0" stroke-width="0.25" text-anchor="middle" >7</text>
<text x="1278.8" y="764.3" font-size="14.0" fill="#e0e0e0" stroke="#e0e0e0" stroke-width="0.25" text-anchor="middle" >10</text>
<text x="1440.8" y="764.3" font-size="14.0" fill="#e0e0e0" stroke="#e0e0e0" stroke-width="0.25" text-anchor="middle" >12</text>
<text x="1602.8" y="764.3" font-size="14.0" fill="#e0e0e0" stroke="#e0e0e0" stroke-width="0.25" text-anchor="middle" >14</text>
<line x1="145.1" x2="145.1" y1="741.5" y2="745.5" stroke="#6c6c6c" stroke-width="1.3"/>
<line x1="307.1" x2="307.1" y1="741.5" y2="745.5" stroke="#6c6c6c" stroke-width="1.3"/>
<line x1="428.6" x2="428.6" y1="741.5" y2="745.5" stroke="#6c6c6c" stroke-width="1.3"/>
<line x1="550.1" x2="550.1" y1="741.5" y2="745.5" stroke="#6c6c6c" stroke-width="1.3"/>
<line x1="712.1" x2="712.1" y1="741.5" y2="745.5" stroke="#6c6c6c" stroke-width="1.3"/>
<line x1="874.1" x2="874.1" y1="741.5" y2="745.5" stroke="#6c6c6c" stroke-width="1.3"/>
<line x1="1036.1" x2="1036.1" y1="741.5" y2="745.5" stroke="#6c6c6c" stroke-width="1.3"/>
<line x1="1157.6" x2="1157.6" y1="741.5" y2="745.5" stroke="#6c6c6c" stroke-width="1.3"/>
<line x1="1279.1" x2="1279.1" y1="741.5" y2="745.5" stroke="#6c6c6c" stroke-width="1.3"/>
<line x1="1441.1" x2="1441.1" y1="741.5" y2="745.5" stroke="#6c6c6c" stroke-width="1.3"/>
<line x1="1603.1" x2="1603.1" y1="741.5" y2="745.5" stroke="#6c6c6c" stroke-width="1.3"/>
<svg x="1700" y="745" width="24.5" height="26" overflow="hidden"><text x="7" y="19.3" font-size="14.0" fill="#e0e0e0">12:00</text></svg>
<rect x="1077.5" y="741" width="125" height="27.6" fill="#4a505c"/>
<line x1="1140.6" x2="1140.6" y1="741" y2="746" stroke="#e6e6e6" stroke-width="1.5"/>
<text x="1084.8" y="759.9" font-size="13.3" fill="#ffffff" stroke="#ffffff" stroke-width="0.12" text-anchor="start" font-weight="bold" textLength="110.5" lengthAdjust="spacingAndGlyphs">08 Сен '18 · 07:00</text>
<rect x="60" y="14.3" width="15" height="15" rx="1.5" fill="none" stroke="#7f8fa3" stroke-width="1.2"/>
<line x1="63" x2="72" y1="21.8" y2="21.8" stroke="#c8d0da" stroke-width="1.3"/>
<path d="M86 16.5h14.6l-4.2 7 4.2 7.2H86z" fill="#5a636f"/>
<text x="107" y="30.8" font-size="18.6" fill="#e8e8e8" text-anchor="start" textLength="256" lengthAdjust="spacingAndGlyphs" stroke="#e8e8e8" stroke-width="0.35">NEO / Tether, 60, BINANCE</text>
<path d="M369.2 21.2h9l-4.5 4.9z" fill="#d8d8d8"/>
<text x="397.5" y="30.5" font-size="16.8" fill="#d2d2d2" text-anchor="start" textLength="43.5" lengthAdjust="spacingAndGlyphs" stroke="#d2d2d2" stroke-width="0.35">ОТКР</text>
<text x="444.6" y="30.6" font-size="17.2" fill="#ffffff" text-anchor="start" font-weight="bold" textLength="54.5" lengthAdjust="spacingAndGlyphs" stroke="#ffffff" stroke-width="0.1">21.479</text>
<text x="512" y="30.5" font-size="16.8" fill="#d2d2d2" text-anchor="start" textLength="46.5" lengthAdjust="spacingAndGlyphs" stroke="#d2d2d2" stroke-width="0.35">МАКС</text>
<text x="561" y="30.6" font-size="17.2" fill="#ffffff" text-anchor="start" font-weight="bold" textLength="54.5" lengthAdjust="spacingAndGlyphs" stroke="#ffffff" stroke-width="0.1">21.627</text>
<text x="628.5" y="30.5" font-size="16.8" fill="#d2d2d2" text-anchor="start" textLength="37" lengthAdjust="spacingAndGlyphs" stroke="#d2d2d2" stroke-width="0.35">МИН</text>
<text x="668.5" y="30.6" font-size="17.2" fill="#ffffff" text-anchor="start" font-weight="bold" textLength="54.5" lengthAdjust="spacingAndGlyphs" stroke="#ffffff" stroke-width="0.1">21.402</text>
<text x="736.5" y="30.5" font-size="16.8" fill="#d2d2d2" text-anchor="start" textLength="40.5" lengthAdjust="spacingAndGlyphs" stroke="#d2d2d2" stroke-width="0.35">ЗАКР</text>
<text x="780" y="30.6" font-size="17.2" fill="#ffffff" text-anchor="start" font-weight="bold" textLength="54.5" lengthAdjust="spacingAndGlyphs" stroke="#ffffff" stroke-width="0.1">21.470</text>
<text x="59.5" y="56" font-size="14.6" fill="#d9d9d9" text-anchor="start" textLength="282.5" lengthAdjust="spacingAndGlyphs" stroke="#d9d9d9" stroke-width="0.35">VPSV (Number Of Rows, 24, Up/Down, 70)</text>
<path d="M348.2 48.2h9l-4.5 4.8z" fill="#d8d8d8"/>
<rect x="370.1" y="42.0" width="17.6" height="17.9" fill="#242a2f"/>
<rect x="391.4" y="42.0" width="17.6" height="17.9" fill="#242a2f"/>
<rect x="412.7" y="42.0" width="17.6" height="17.9" fill="#242a2f"/>
<rect x="434.0" y="42.0" width="17.6" height="17.9" fill="#242a2f"/>
<path d="M372.3 50.9Q378.9 42.3 385.5 50.9Q378.9 59.5 372.3 50.9z" fill="none" stroke="#000000" stroke-width="1.9" stroke-linejoin="round"/><circle cx="378.9" cy="50.9" r="2.6" fill="none" stroke="#000000" stroke-width="1.5"/><circle cx="378.9" cy="50.9" r="0.9" fill="#000000"/>
<circle cx="400.2" cy="50.9" r="3.8" fill="none" stroke="#000000" stroke-width="2.3"/>
<circle cx="400.2" cy="50.9" r="5.8" fill="none" stroke="#000000" stroke-width="2.2" stroke-dasharray="2.278 2.278" stroke-dashoffset="1.14"/>
<path d="M416.8 50.9h9.4M421.5 46.199999999999996v9.4" stroke="#000000" stroke-width="2.3" fill="none"/>
<path d="M437.5 45.6l10.6 10.6M448.1 45.6l-10.6 10.6" stroke="#000000" stroke-width="2" fill="none"/>
<text x="461" y="56" font-size="14.6" fill="#2f8bd6" text-anchor="start" textLength="24" lengthAdjust="spacingAndGlyphs" stroke="#2f8bd6" stroke-width="0.35">n/a</text>
<text x="497" y="56" font-size="14.6" fill="#e9aa1d" text-anchor="start" textLength="24.5" lengthAdjust="spacingAndGlyphs" stroke="#e9aa1d" stroke-width="0.35">n/a</text>
<text x="534" y="56" font-size="14.6" fill="#454545" text-anchor="start" textLength="24.5" lengthAdjust="spacingAndGlyphs" stroke="#454545" stroke-width="0.35">n/a</text>
<text x="59.5" y="82.3" font-size="14.6" fill="#d9d9d9" text-anchor="start" textLength="77" lengthAdjust="spacingAndGlyphs" stroke="#d9d9d9" stroke-width="0.35">Объём (20)</text>
<path d="M141.9 74.4h8.8l-4.4 4.7z" fill="#d8d8d8"/>
<rect x="164.0" y="68.0" width="17.6" height="17.9" fill="#242a2f"/>
<rect x="185.3" y="68.0" width="17.6" height="17.9" fill="#242a2f"/>
<rect x="206.6" y="68.0" width="17.6" height="17.9" fill="#242a2f"/>
<rect x="227.9" y="68.0" width="17.6" height="17.9" fill="#242a2f"/>
<path d="M166.2 77Q172.8 68.4 179.4 77Q172.8 85.6 166.2 77z" fill="none" stroke="#000000" stroke-width="1.9" stroke-linejoin="round"/><circle cx="172.8" cy="77" r="2.6" fill="none" stroke="#000000" stroke-width="1.5"/><circle cx="172.8" cy="77" r="0.9" fill="#000000"/>
<circle cx="194.1" cy="77" r="3.8" fill="none" stroke="#000000" stroke-width="2.3"/>
<circle cx="194.1" cy="77" r="5.8" fill="none" stroke="#000000" stroke-width="2.2" stroke-dasharray="2.278 2.278" stroke-dashoffset="1.14"/>
<path d="M210.7 77h9.4M215.4 72.3v9.4" stroke="#000000" stroke-width="2.3" fill="none"/>
<path d="M231.4 71.7l10.6 10.6M242.0 71.7l-10.6 10.6" stroke="#000000" stroke-width="2" fill="none"/>
<text x="256" y="82.3" font-size="14.6" fill="#c40f0f" text-anchor="start" textLength="52" lengthAdjust="spacingAndGlyphs" stroke="#c40f0f" stroke-width="0.35">11.778K</text>
<text x="321" y="82.3" font-size="14.6" fill="#e8843a" text-anchor="start" textLength="54" lengthAdjust="spacingAndGlyphs" stroke="#e8843a" stroke-width="0.35">55.595K</text>
<rect x="946" y="5" width="411.5" height="48" rx="2" fill="#1c2030" stroke="#363c4e" stroke-width="1"/>
<rect x="965.5" y="5.5" width="125" height="47" fill="#2e2233"/>
<rect x="1162.5" y="5.5" width="125" height="47" fill="#1d2a3f"/>
<line x1="965.5" x2="965.5" y1="5.5" y2="52.5" stroke="#363c4e" stroke-width="1"/>
<line x1="1090.5" x2="1090.5" y1="5.5" y2="52.5" stroke="#363c4e" stroke-width="1"/>
<line x1="1162.5" x2="1162.5" y1="5.5" y2="52.5" stroke="#363c4e" stroke-width="1"/>
<line x1="1287.5" x2="1287.5" y1="5.5" y2="52.5" stroke="#363c4e" stroke-width="1"/>
<line x1="1333.5" x2="1333.5" y1="5.5" y2="52.5" stroke="#363c4e" stroke-width="1"/>
<line x1="1333.5" x2="1357" y1="29.7" y2="29.7" stroke="#363c4e" stroke-width="1"/>
<rect x="953.2" y="23.5" width="2.4" height="2.4" fill="#d5d9e0"/>
<rect x="953.2" y="29.5" width="2.4" height="2.4" fill="#d5d9e0"/>
<rect x="953.2" y="35.5" width="2.4" height="2.4" fill="#d5d9e0"/>
<rect x="958.4" y="23.5" width="2.4" height="2.4" fill="#d5d9e0"/>
<rect x="958.4" y="29.5" width="2.4" height="2.4" fill="#d5d9e0"/>
<rect x="958.4" y="35.5" width="2.4" height="2.4" fill="#d5d9e0"/>
<text x="975" y="24.6" font-size="15" fill="#f0506e" text-anchor="start" font-weight="bold" textLength="73" lengthAdjust="spacingAndGlyphs">ПРОДАЖА</text>
<text x="975" y="43.4" font-size="16.5" fill="#d5d9e0" text-anchor="start" textLength="43.5" lengthAdjust="spacingAndGlyphs" stroke="#d5d9e0" stroke-width="0.35">21.47</text>
<text x="1018.5" y="43.4" font-size="16.5" fill="#f0506e" text-anchor="start" stroke="#f0506e" stroke-width="0.35">0</text>
<text x="1105" y="35" font-size="17" fill="#8a909c" text-anchor="start" textLength="43.5" lengthAdjust="spacingAndGlyphs" stroke="#8a909c" stroke-width="0.35">0.019</text>
<text x="1172" y="24.6" font-size="15" fill="#3fa6e0" text-anchor="start" font-weight="bold" textLength="68" lengthAdjust="spacingAndGlyphs">ПОКУПКА</text>
<text x="1172" y="43.4" font-size="16.5" fill="#d5d9e0" text-anchor="start" textLength="43.5" lengthAdjust="spacingAndGlyphs" stroke="#d5d9e0" stroke-width="0.35">21.48</text>
<text x="1215.5" y="43.4" font-size="16.5" fill="#35c48a" text-anchor="start" stroke="#35c48a" stroke-width="0.35">9</text>
<circle cx="1310.3" cy="29" r="12.6" fill="none" stroke="#f0931e" stroke-width="1.8"/>
<rect x="1309.1" y="26.8" width="2.6" height="8.4" fill="#f0931e"/><rect x="1309.1" y="22.2" width="2.6" height="2.7" fill="#f0931e"/>
<path d="M1340 18.3h10.5M1345.2 13v10.6M1340 42.2h10.5" stroke="#dfe3ea" stroke-width="1.6" fill="none"/>
<circle cx="812.3" cy="713.5" r="17.4" fill="#2a2e3b" fill-opacity="0.66"/>
<path d="M805 713.5h14.6" stroke="#adbfcd" stroke-width="2.5" fill="none"/>
<circle cx="857.2" cy="713.5" r="17.4" fill="#2a2e3b" fill-opacity="0.66"/>
<path d="M850 713.5h14.4M857.2 706.3v14.4" stroke="#adbfcd" stroke-width="2.5" fill="none"/>
<circle cx="920" cy="713.5" r="17.4" fill="#2a2e3b" fill-opacity="0.66"/>
<path d="M923.3 706.2l-8 7.3 8 7.3" stroke="#adbfcd" stroke-width="2.5" fill="none"/>
<circle cx="965.5" cy="713.5" r="17.4" fill="#2a2e3b" fill-opacity="0.66"/>
<path d="M962.2 706.2l8 7.3-8 7.3" stroke="#adbfcd" stroke-width="2.5" fill="none"/>
<circle cx="1027.4" cy="713.5" r="17.4" fill="#2a2e3b" fill-opacity="0.66"/>
<path d="M1020.2 712.5a7.6 7.6 0 1 0 3-5.2" stroke="#adbfcd" stroke-width="2.4" fill="none"/><path d="M1023.6 702.5l-1 5.6 5.7 0.6" stroke="#adbfcd" stroke-width="2.4" fill="none"/>
<rect x="0" y="772" width="1785" height="23" fill="#131722"/>
<line x1="0" x2="1785" y1="772.3" y2="772.3" stroke="#2a2f3d" stroke-width="1.3"/>
<text x="12" y="798.2" font-size="15.4" fill="#6d7b96" text-anchor="start" textLength="17" lengthAdjust="spacingAndGlyphs" stroke="#6d7b96" stroke-width="0.35">1д</text>
<text x="49" y="798.2" font-size="15.4" fill="#6d7b96" text-anchor="start" textLength="17" lengthAdjust="spacingAndGlyphs" stroke="#6d7b96" stroke-width="0.35">5д</text>
<text x="87" y="798.2" font-size="15.4" fill="#6d7b96" text-anchor="start" textLength="36" lengthAdjust="spacingAndGlyphs" stroke="#6d7b96" stroke-width="0.35">1мес</text>
<text x="143" y="798.2" font-size="15.4" fill="#6d7b96" text-anchor="start" textLength="37" lengthAdjust="spacingAndGlyphs" stroke="#6d7b96" stroke-width="0.35">3мес</text>
<text x="200" y="798.2" font-size="15.4" fill="#6d7b96" text-anchor="start" textLength="37" lengthAdjust="spacingAndGlyphs" stroke="#6d7b96" stroke-width="0.35">6мес</text>
<text x="256" y="798.2" font-size="15.4" fill="#6d7b96" text-anchor="start" textLength="29" lengthAdjust="spacingAndGlyphs" stroke="#6d7b96" stroke-width="0.35">YTD</text>
<text x="305" y="798.2" font-size="15.4" fill="#6d7b96" text-anchor="start" textLength="15" lengthAdjust="spacingAndGlyphs" stroke="#6d7b96" stroke-width="0.35">1г</text>
<text x="340" y="798.2" font-size="15.4" fill="#6d7b96" text-anchor="start" textLength="18" lengthAdjust="spacingAndGlyphs" stroke="#6d7b96" stroke-width="0.35">5л</text>
<text x="378" y="798.2" font-size="15.4" fill="#6d7b96" text-anchor="start" textLength="26" lengthAdjust="spacingAndGlyphs" stroke="#6d7b96" stroke-width="0.35">Все</text>
<text x="440" y="798.2" font-size="15.4" fill="#6d7b96" text-anchor="start" textLength="76" lengthAdjust="spacingAndGlyphs" stroke="#6d7b96" stroke-width="0.35">Перейти...</text>
<line x1="421.3" x2="421.3" y1="780" y2="795" stroke="#2f3545" stroke-width="1.2"/>
<text x="1438" y="798.2" font-size="15.4" fill="#6d7b96" text-anchor="start" textLength="125" lengthAdjust="spacingAndGlyphs" stroke="#6d7b96" stroke-width="0.35">15:11:14 (UTC+3)</text>
<line x1="1581.8" x2="1581.8" y1="780" y2="795" stroke="#2f3545" stroke-width="1.2"/>
<text x="1597" y="798.2" font-size="15.4" fill="#6d7b96" text-anchor="start" stroke="#6d7b96" stroke-width="0.35">%</text>
<text x="1635" y="798.2" font-size="15.4" fill="#6d7b96" text-anchor="start" textLength="23" lengthAdjust="spacingAndGlyphs" stroke="#6d7b96" stroke-width="0.35">лог</text>
<text x="1682" y="798.2" font-size="15.4" fill="#6d7b96" text-anchor="start" textLength="32" lengthAdjust="spacingAndGlyphs" stroke="#6d7b96" stroke-width="0.35">авто</text>
<path d="M1747.9 783.8L1748.4 780.6L1752.2 780.6L1752.7 783.8L1755.0 784.7L1757.6 782.8L1760.3 785.5L1758.4 788.1L1759.3 790.4L1762.5 790.9L1762.5 794.7L1759.3 795.2L1758.4 797.4L1760.3 800.1L1757.6 802.8L1755.0 800.9L1752.7 801.8L1752.2 805.0L1748.4 805.0L1747.9 801.8L1745.6 800.9L1743.0 802.8L1740.3 800.1L1742.2 797.4L1741.3 795.2L1738.1 794.7L1738.1 790.9L1741.3 790.4L1742.2 788.1L1740.3 785.5L1743.0 782.8L1745.6 784.7z" fill="none" stroke="#808ca4" stroke-width="1.6" stroke-linejoin="round"/>
<circle cx="1750.3" cy="792.8" r="3.6" fill="none" stroke="#808ca4" stroke-width="1.6"/>
</svg>
</body></html>
